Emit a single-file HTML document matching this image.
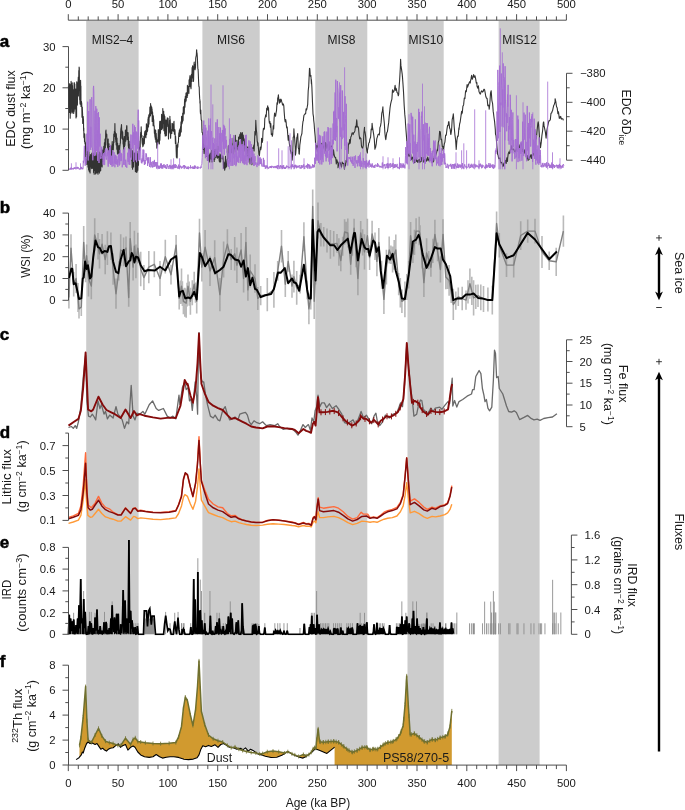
<!DOCTYPE html>
<html><head><meta charset="utf-8"><title>Figure</title>
<style>
html,body{margin:0;padding:0;background:#fff;}
svg{display:block;font-family:"Liberation Sans",sans-serif;fill:#1a1a1a;will-change:transform;}
</style></head><body>
<svg width="685" height="810" viewBox="0 0 685 810">
<rect width="685" height="810" fill="#fff"/>
<rect x="86.2" y="21" width="52.4" height="744" fill="#cccccc"/>
<rect x="202.4" y="21" width="57.3" height="744" fill="#cccccc"/>
<rect x="315.3" y="21" width="52" height="744" fill="#cccccc"/>
<rect x="407.5" y="21" width="36.2" height="744" fill="#cccccc"/>
<rect x="498.6" y="21" width="41" height="744" fill="#cccccc"/>
<path d="M68.5 86 L68.6 107.8 L68.8 107.7 L68.9 104.3 L69 91.5 L69.2 83.6 L69.3 104 L69.4 112.4 L69.5 91.4 L69.7 89.2 L69.8 89.6 L69.9 84.7 L70.1 106.8 L70.2 118.2 L70.3 111.7 L70.5 94.9 L70.6 107.8 L70.7 84 L70.9 113.1 L71 93.6 L71.1 81.4 L71.3 105.2 L71.4 86.6 L71.5 91.8 L71.7 83.6 L71.8 98.3 L71.9 102.5 L72.1 112.1 L72.2 82.9 L72.3 112.9 L72.5 85.6 L72.6 90 L72.8 105.4 L72.9 94.4 L73 94.1 L73.2 103.1 L73.3 89.8 L73.4 111.7 L73.6 89.5 L73.7 113.5 L73.8 112.3 L74 102 L74.1 82.8 L74.2 111.2 L74.4 82.8 L74.5 100.9 L74.7 97.8 L74.8 84.1 L74.9 105.6 L75.1 109 L75.2 103.5 L75.3 96.3 L75.5 100.4 L75.6 103.1 L75.8 89.1 L75.9 113.3 L76 118 L76.2 110.5 L76.3 116.3 L76.5 92.1 L76.6 116.8 L76.7 81.9 L76.9 97.1 L77 83.9 L77.2 95.8 L77.3 104.3 L77.4 105.1 L77.6 95.1 L77.7 89.1 L77.9 81.7 L78 88.2 L78.1 82 L78.3 77 L78.4 95.9 L78.6 85.9 L78.7 81.3 L78.8 70.5 L79 88.1 L79.1 67.1 L79.3 68.1 L79.4 79.8 L79.6 87.3 L79.7 99.8 L79.8 93.4 L80 103.2 L80.1 104.2 L80.3 98.7 L80.4 99.7 L80.6 80.3 L80.7 87.7 L80.9 86.1 L81 106.4 L81.1 104.6 L81.3 104.7 L81.4 101.3 L81.6 104.1 L81.7 102.8 L81.9 110.9 L82 117.3 L82.2 109.2 L82.3 107 L82.4 110.3 L82.6 114.3 L82.7 123.3 L82.9 123.5 L83 120.1 L83.2 116.6 L83.3 118.1 L83.5 120.2 L83.6 130.7 L83.8 128.1 L83.9 137.1 L84.1 137.8 L84.2 137.9 L84.4 135.2 L84.5 141.7 L84.7 133.8 L84.8 135.3 L85 143.4 L85.1 144.3 L85.2 141.9 L85.4 144.3 L85.5 142.8 L85.7 157 L85.8 156 L86 161 L86.1 162.5 L86.3 154.5 L86.4 160.1 L86.6 154 L86.7 163.1 L86.9 164.5 L87 148.9 L87.2 146.5 L87.3 151.5 L87.5 160.4 L87.6 156 L87.8 147.8 L88 167.1 L88.1 166.4 L88.3 159.4 L88.4 150.1 L88.6 169.9 L88.7 162.1 L88.9 151.8 L89 158 L89.2 165.3 L89.3 171.6 L89.5 162.8 L89.6 166.7 L89.8 156.9 L89.9 157.8 L90.1 173 L90.2 160.9 L90.4 154.5 L90.5 165.7 L90.7 155 L90.8 156.7 L91 162.5 L91.1 165.5 L91.3 166.6 L91.4 168.2 L91.6 162.1 L91.7 153.5 L91.9 168.6 L92 153.1 L92.2 162.7 L92.3 161.1 L92.5 167.3 L92.6 168.3 L92.8 157.3 L93 166.7 L93.1 167.7 L93.3 162.6 L93.4 155 L93.6 172.6 L93.7 165.5 L93.9 153.1 L94 157.2 L94.2 174.3 L94.3 156.9 L94.5 160.6 L94.6 169.7 L94.8 170.5 L94.9 166.1 L95.1 168.6 L95.2 152.4 L95.4 153.6 L95.6 173.9 L95.7 169.9 L95.9 152.4 L96 152.6 L96.2 157.1 L96.3 173 L96.5 156.6 L96.6 167.1 L96.8 173 L96.9 166.3 L97.1 172.8 L97.2 157.7 L97.4 155.2 L97.6 152.2 L97.7 169.2 L97.9 154.2 L98 174.2 L98.2 168.2 L98.3 156.1 L98.5 170.4 L98.6 155.6 L98.8 163.7 L98.9 154.4 L99.1 170.1 L99.3 172.4 L99.4 173.1 L99.6 152.1 L99.7 171.6 L99.9 164.9 L100 171 L100.2 163.7 L100.3 166.4 L100.5 165.8 L100.7 170.6 L100.8 154 L101 153 L101.1 163.7 L101.3 157.4 L101.4 159.3 L101.6 149.8 L101.7 166.2 L101.9 149.1 L102.1 167 L102.2 165.6 L102.4 157.7 L102.5 151.1 L102.7 160 L102.8 152.4 L103 155.5 L103.1 150.2 L103.3 161.4 L103.5 154.5 L103.6 150.9 L103.8 146.3 L103.9 154.3 L104.1 155.1 L104.2 154.1 L104.4 142.8 L104.6 145.6 L104.7 143.8 L104.9 149.1 L105 139.1 L105.2 144.1 L105.3 147.9 L105.5 143.5 L105.7 131.5 L105.8 131 L106 130.1 L106.1 136.8 L106.3 134.1 L106.4 133.9 L106.6 134.1 L106.8 134.5 L106.9 138.4 L107.1 140 L107.2 144.9 L107.4 143.4 L107.5 145.4 L107.7 148.1 L107.9 148.2 L108 147.6 L108.2 139.1 L108.3 148.8 L108.5 151.6 L108.7 146.3 L108.8 153 L109 143.7 L109.1 154.8 L109.3 148.3 L109.4 152.5 L109.6 146.6 L109.8 147.8 L109.9 148.9 L110.1 149 L110.2 146.3 L110.4 151.7 L110.6 159 L110.7 154.1 L110.9 157.6 L111 154.8 L111.2 155.4 L111.4 157.2 L111.5 153.5 L111.7 146.4 L111.8 145.6 L112 147.5 L112.2 141.6 L112.3 144.2 L112.5 152.9 L112.6 153 L112.8 144.3 L113 150.1 L113.1 149.8 L113.3 149.8 L113.4 146.9 L113.6 141.6 L113.8 134 L113.9 142.5 L114.1 133.7 L114.2 136.5 L114.4 131.3 L114.6 132 L114.7 136.4 L114.9 123.5 L115 129.8 L115.2 132.7 L115.4 132.4 L115.5 139.3 L115.7 133.2 L115.8 141.5 L116 139.7 L116.2 144.9 L116.3 133.9 L116.5 136.9 L116.6 139.2 L116.8 149.2 L117 138 L117.1 142.6 L117.3 149.6 L117.5 154 L117.6 143.1 L117.8 147.4 L117.9 151.4 L118.1 152 L118.3 153.4 L118.4 154 L118.6 147.5 L118.7 148.2 L118.9 145.5 L119.1 155 L119.2 146.7 L119.4 145.9 L119.6 154.3 L119.7 148.4 L119.9 146.1 L120 145.6 L120.2 143.3 L120.4 143.2 L120.5 136.2 L120.7 131.4 L120.9 129.9 L121 127.7 L121.2 131.1 L121.3 126.5 L121.5 124.6 L121.7 130.4 L121.8 138.3 L122 135.5 L122.2 130.9 L122.3 139.1 L122.5 132 L122.7 132.1 L122.8 136.1 L123 138.8 L123.1 143.9 L123.3 141.7 L123.5 146.9 L123.6 139.2 L123.8 151.9 L124 142.7 L124.1 148.7 L124.3 136.6 L124.5 147 L124.6 137.7 L124.8 145.6 L125 144 L125.1 141.3 L125.3 134.9 L125.4 130.3 L125.6 132 L125.8 141.1 L125.9 129.8 L126.1 135.9 L126.3 134.1 L126.4 134.2 L126.6 126.6 L126.8 125.5 L126.9 126 L127.1 139.6 L127.3 132.4 L127.4 137.3 L127.6 137.3 L127.8 133.6 L127.9 132.5 L128.1 133 L128.3 145.9 L128.4 136.9 L128.6 149.7 L128.7 142.5 L128.9 148.7 L129.1 141.3 L129.2 151.1 L129.4 144.2 L129.6 146.5 L129.7 149.4 L129.9 144.3 L130.1 146.9 L130.2 155.2 L130.4 148.7 L130.6 150.6 L130.7 157.3 L130.9 148.9 L131.1 148.7 L131.2 149.5 L131.4 153.5 L131.6 153.8 L131.7 160.7 L131.9 157.8 L132.1 167.4 L132.2 150.2 L132.4 164.5 L132.6 169.2 L132.7 156.4 L132.9 151.9 L133.1 160.9 L133.2 153.8 L133.4 161.3 L133.6 166.9 L133.7 153.3 L133.9 153.8 L134.1 161.8 L134.3 155 L134.4 156.3 L134.6 160.9 L134.8 153.8 L134.9 152.7 L135.1 159.2 L135.3 161.5 L135.4 171.8 L135.6 163.4 L135.8 152.8 L135.9 156.1 L136.1 167.6 L136.3 163.6 L136.4 170.4 L136.6 172.4 L136.8 170.1 L136.9 153.6 L137.1 172 L137.3 162.8 L137.5 156.5 L137.6 155 L137.8 170.2 L138 155.1 L138.1 151.4 L138.3 154.3 L138.5 165.3 L138.6 155.7 L138.8 158.6 L139 147.7 L139.1 151.9 L139.3 149.1 L139.5 147 L139.6 149.7 L139.7 150.2 L139.8 145.3 L140 141 L140.2 148 L140.3 141 L140.5 136 L140.7 132.4 L140.8 137.2 L141 133.9 L141.2 126.8 L141.3 130.2 L141.4 131.9 L141.5 136.8 L141.7 136.6 L141.9 135.2 L142 140.1 L142.2 143.2 L142.3 143.5 L142.4 144.5 L142.6 138.5 L142.7 145.5 L142.9 146.8 L143.1 144.1 L143.2 145.2 L143.4 139.2 L143.6 145 L143.8 136.3 L143.9 136.5 L144.1 140.5 L144.3 143.8 L144.5 139.9 L144.5 133.7 L144.6 134.5 L144.8 131.5 L145 135.5 L145.2 131.1 L145.3 130.9 L145.5 136.9 L145.7 134.1 L145.9 137.7 L146 130.2 L146.2 132.9 L146.4 123.7 L146.6 134.8 L146.7 124.9 L146.9 127.2 L147.1 126.8 L147.3 131.7 L147.4 124.9 L147.6 130.7 L147.8 125 L148 118.9 L148.1 126.3 L148.3 117 L148.5 126.9 L148.7 118.8 L148.8 114.9 L149 124.1 L149.2 114.5 L149.4 114.9 L149.6 113.2 L149.7 116.9 L149.9 107.1 L150.1 111.1 L150.3 107.4 L150.5 115.8 L150.6 103.5 L150.8 111.1 L151 105.5 L151.2 108.1 L151.3 110.7 L151.5 113.8 L151.7 107.1 L151.9 109.6 L152.1 109 L152.2 121.4 L152.4 111.6 L152.6 112.6 L152.8 118.8 L153 120.6 L153.1 125.7 L153.3 115.9 L153.5 119.4 L153.7 119.6 L153.9 126.1 L154.1 125.5 L154.2 126 L154.4 133.2 L154.6 131.4 L154.8 135 L155 137.3 L155.1 129.7 L155.3 139.2 L155.5 133.7 L155.7 130.4 L155.9 142.1 L156.1 133.3 L156.2 133.3 L156.4 137.8 L156.6 138.9 L156.8 148.1 L157 146.2 L157.2 140.1 L157.3 140.8 L157.5 145 L157.7 144 L157.9 141 L158.1 137.9 L158.3 129.5 L158.5 131 L158.6 139.1 L158.8 136.9 L159 141.4 L159.2 143.1 L159.4 143.9 L159.6 124.8 L159.8 121.3 L159.9 140.3 L160.1 131.8 L160.3 121.7 L160.5 133.3 L160.7 122.1 L160.9 121 L161.1 123.4 L161.3 126.5 L161.4 129.5 L161.6 114.3 L161.8 129.6 L162 126.1 L162.2 121.7 L162.4 125.8 L162.6 128.2 L162.8 108.5 L162.9 119 L163.1 123.2 L163.3 123.2 L163.5 121.7 L163.7 111.2 L163.9 130.7 L164.1 127.3 L164.3 114.8 L164.5 120.3 L164.7 133.7 L164.8 116.4 L165 122.1 L165.2 136.1 L165.4 135.4 L165.6 120.1 L165.8 132.9 L166 124.7 L166.2 132.7 L166.4 135.6 L166.6 120.1 L166.8 122.4 L167 122.1 L167.1 123.3 L167.3 117.7 L167.5 120 L167.7 126.4 L167.9 126.7 L168.1 118.4 L168.3 130.4 L168.5 139 L168.7 130.1 L168.9 124.8 L169.1 133.1 L169.3 126.6 L169.5 120.2 L169.7 127.5 L169.9 116.3 L170.1 132 L170.2 119.6 L170.4 124.5 L170.6 138.2 L170.8 133.2 L171 134 L171.2 129.9 L171.4 129.5 L171.6 130.3 L171.8 133.4 L172 123.4 L172.2 130.2 L172.4 124.5 L172.6 123.8 L172.8 130.7 L173 127.9 L173.2 131 L173.4 131.2 L173.6 127.6 L173.8 122.6 L174 121.3 L174.2 129.8 L174.4 134.2 L174.6 130.3 L174.8 129.5 L175 130.6 L175.2 134.7 L175.4 143.5 L175.6 136.2 L175.8 141.2 L176 143.5 L176.2 151.5 L176.4 157.2 L176.6 145.9 L176.8 148.2 L177 158.1 L177.2 157.3 L177.4 144.6 L177.6 145.8 L177.8 147.1 L178 142.9 L178.2 142.9 L178.4 142.4 L178.6 137.9 L178.8 133.6 L179 132.6 L179.2 132.4 L179.4 130 L179.6 136.5 L179.8 136.4 L180 128.8 L180.2 135.6 L180.4 133.5 L180.6 126.5 L180.8 127.6 L181 121.8 L181.2 132 L181.4 125.2 L181.6 116.2 L181.8 116.6 L182 123.8 L182.3 117.8 L182.5 121.9 L182.7 113 L182.9 120.9 L183.1 119.8 L183.3 107.3 L183.5 114 L183.7 106.5 L183.9 113.6 L184.1 114 L184.3 112.6 L184.5 102.5 L184.7 99.1 L184.9 107.1 L185.1 104.3 L185.3 96.4 L185.6 96.4 L185.8 101.7 L186 93.1 L186.2 100.6 L186.4 93.4 L186.6 92.7 L186.8 94.5 L187 95.3 L187.2 97.4 L187.4 85.4 L187.6 95.5 L187.9 86.5 L188.1 86.7 L188.3 91.4 L188.5 91.4 L188.7 89.2 L188.9 93.4 L189.1 79.9 L189.3 80.9 L189.5 86.6 L189.7 78.3 L190 75.5 L190.2 76.3 L190.4 86.6 L190.6 87.1 L190.8 84.4 L191 88.6 L191.2 84.7 L191.4 74.5 L191.7 74 L191.9 81.5 L192.1 67.6 L192.3 78.1 L192.5 67.1 L192.7 65.7 L192.9 74.4 L193.2 66.6 L193.4 81.5 L193.6 79.6 L193.8 70.5 L194 64.4 L194.2 62.1 L194.4 69 L194.7 68.5 L194.9 64.9 L195.1 69.8 L195.3 66 L195.5 68.1 L195.6 64.5 L195.7 58.5 L196 56.2 L196.2 56.2 L196.4 54.2 L196.6 49.7 L196.7 50.4 L196.8 53.4 L197 52.8 L197.3 56.5 L197.5 60.7 L197.7 65.6 L197.9 69 L198 69.5 L198.1 69.2 L198.3 73.7 L198.6 81.5 L198.8 85.5 L199 86.9 L199.2 86.8 L199.4 93.5 L199.7 98.9 L199.9 100 L199.9 102.9 L200.1 101.1 L200.3 111.4 L200.5 113.6 L200.8 110.1 L201 115.7 L201.2 119.7 L201.4 120 L201.7 121 L201.9 129.4 L202.1 132.5 L202.4 132.7 L202.6 132.9 L202.9 138.3 L203.1 138.8 L203.3 149.4 L203.6 143.9 L203.7 149.1 L203.8 147.9 L204.1 153.4 L204.3 146.3 L204.6 145.8 L204.8 145.3 L205.1 146.6 L205.3 152 L205.6 156.4 L205.8 147.4 L206.1 147.7 L206.4 156.2 L206.6 151.7 L206.9 150.7 L207.2 147.9 L207.4 149.9 L207.7 160.3 L208 148.6 L208.2 150.8 L208.5 157.8 L208.8 160.2 L209.1 160.6 L209.4 154.9 L209.7 161.9 L209.9 157.2 L210.2 153.1 L210.5 155.6 L210.8 159 L211.1 159.1 L211.4 150.5 L211.7 151.3 L212 161.9 L212.3 149.8 L212.6 159.6 L212.9 152.8 L213.2 151.4 L213.5 151.4 L213.9 154.2 L214.2 161.4 L214.5 149.5 L214.8 159.2 L215.1 151.6 L215.5 149.4 L215.8 157.3 L216.1 151.5 L216.4 149.2 L216.8 152.3 L217.1 157.8 L217.5 158.2 L217.8 154 L218.1 146.4 L218.5 157.5 L218.8 155.9 L219.2 160.6 L219.5 162 L219.9 153.8 L220.2 161.7 L220.6 161.9 L221 154.8 L221.3 156.8 L221.7 157.6 L222.1 157.9 L222.4 158.9 L222.8 155.8 L223.2 158.1 L223.6 168.3 L224 162 L224.3 165.9 L224.7 170.1 L225.1 166.8 L225.5 156.2 L225.9 167.8 L226.3 164.2 L226.7 166.5 L227.1 159.8 L227.5 158.9 L227.9 158.6 L228.3 145.9 L228.7 152.5 L229.1 145.6 L229.5 153.9 L229.9 139.6 L230.4 147.5 L230.8 143.2 L231.2 152.7 L231.6 143 L232 152.8 L232.4 152.7 L232.8 153.1 L233.2 138.1 L233.6 153.9 L234 149.8 L234.4 148.2 L234.9 147.5 L235.3 135.2 L235.7 151.5 L236.1 144.8 L236.5 142.8 L236.9 140.2 L237.3 148.9 L237.8 148.8 L238.2 150.4 L238.6 137.1 L239 139.5 L239.4 137.5 L239.9 134.3 L240.3 138.7 L240.7 132.5 L241.1 147.8 L241.5 136.2 L242 133 L242.4 132.7 L242.8 146.1 L243.2 135 L243.7 140.2 L244.1 138.8 L244.5 146.6 L244.9 150.9 L245.4 139.3 L245.8 147 L246.2 153.6 L246.7 146.4 L247.1 156.2 L247.5 154.2 L247.9 147.1 L248.4 159.6 L248.8 154.9 L249.2 146.9 L249.7 157.8 L250.1 163.9 L250.5 159 L251 159.6 L251.4 157.6 L251.9 164.7 L252.3 158 L252.7 147.8 L253.2 148.5 L253.6 146.5 L254 144.9 L254.1 150.9 L254.5 142.9 L254.9 131.5 L255.4 135.1 L255.8 120.4 L255.9 123.1 L256.3 129.5 L256.7 132.9 L257.2 141.2 L257.6 143.1 L257.8 145.7 L258 142.7 L258.5 149.3 L258.9 154.3 L259.4 155.8 L259.7 152.5 L259.8 151.4 L260.3 147 L260.7 149.8 L261.2 147.5 L261.6 138.2 L262.1 142.5 L262.6 140.8 L263 131.7 L263.5 128.2 L263.5 129.7 L263.9 129.2 L264.4 129.1 L264.8 118.6 L265.3 117.1 L265.7 114.9 L266.2 116.7 L266.7 108.3 L267.1 109.6 L267.6 106.5 L267.7 105.8 L268.1 110.3 L268.5 107.7 L269 119.6 L269.4 123.1 L269.9 121.5 L270.4 127.1 L270.8 123.6 L271.3 134.5 L271.8 133.7 L272 134.3 L272.3 136.3 L272.7 134.4 L273.2 125.9 L273.7 128.9 L274.1 118.2 L274.6 113.1 L275.1 115.1 L275.6 116.3 L276 113.2 L276.5 110.7 L277 102.9 L277.5 104.2 L277.7 97.9 L277.9 98.8 L278.4 94.9 L278.9 100.7 L279.4 103.1 L279.9 99.6 L280.4 102.1 L280.8 99.1 L281.3 99.8 L281.8 101.9 L282.3 103.5 L282.5 104.9 L282.8 105 L283.3 103.9 L283.8 105.8 L284.2 112.1 L284.7 118.8 L285.2 122 L285.7 119.5 L286.2 122.5 L286.3 124.6 L286.7 128 L287.2 127.1 L287.7 134.3 L288.2 140.1 L288.7 135.6 L289.2 142.3 L289.7 146.4 L290.1 145.2 L290.2 149.4 L290.7 151.5 L291.2 154 L291.7 152.1 L292.2 160.3 L292.4 157.1 L292.7 155.5 L293.2 137.1 L293.7 136.7 L293.9 128.7 L294.2 134.2 L294.7 138.9 L295.2 147 L295.4 155.1 L295.7 153.6 L296.2 147.8 L296.8 137.7 L297.3 136.2 L297.7 133.6 L297.8 136.2 L298.3 147.9 L298.8 149.3 L299 153.7 L299.3 154.1 L299.8 145.1 L300.4 140.8 L300.9 136.6 L301.4 135.2 L301.9 133.5 L302.4 126.5 L303 121.2 L303.4 120.6 L303.5 118.4 L304 115.2 L304.5 114.5 L305 113.9 L305.6 113.9 L306.1 108.9 L306.6 110 L307.1 107.7 L307.2 107 L307.7 104.3 L308.2 90.7 L308.7 86.4 L309.3 72.8 L309.5 68.3 L309.8 68.6 L310.3 76.2 L310.9 75.5 L311.4 83.7 L311.4 79.6 L311.9 87.4 L312.5 102.4 L313 113.8 L313.5 116.9 L313.7 120.2 L314.1 123.5 L314.6 130.8 L315.2 136.8 L315.7 146.8 L316.1 149 L316.3 148.7 L316.8 145.3 L317.3 151.3 L317.9 147.3 L318.4 140.5 L319 147.9 L319.5 145.6 L319.9 142.9 L320.1 141.2 L320.6 144.5 L321.2 147.9 L321.7 143.3 L322.3 144.2 L322.8 143.4 L323.4 146.5 L323.9 148.1 L324.5 149.4 L324.7 145.9 L325.1 151.2 L325.6 142.5 L326.2 144 L326.7 148.2 L327.3 146.9 L327.8 144.2 L328.4 144.3 L328.5 142.5 L329 142.1 L329.5 149.5 L330.1 146.9 L330.6 146.7 L331.2 145.9 L331.8 146.6 L332.3 155.8 L332.9 156.1 L333.2 153.4 L333.5 149.7 L334 153.8 L334.6 156.5 L335.2 157.8 L335.7 157.6 L336.3 164 L336.9 159.7 L337.5 162.7 L338 162.2 L338 167.7 L338.6 164.9 L339.2 163.4 L339.7 162.1 L340.3 162.8 L340.9 165.2 L341.5 167.1 L342.1 162 L342.6 163.2 L343.2 163.5 L343.8 163.4 L344.4 169.1 L344.9 165.5 L345.5 163 L345.5 166 L346.1 160.4 L346.7 161.7 L347.3 152.3 L347.9 153.6 L348.4 144.7 L349 142.9 L349.3 143.9 L349.6 139.5 L350.2 143.2 L350.8 137 L351.4 135.9 L352 133.1 L352.6 132.9 L353.1 133 L353.1 134.6 L353.7 132.8 L354.3 132.4 L354.9 130.9 L355.5 126.4 L356.1 127.3 L356.7 119.8 L356.9 121.3 L357.3 126.9 L357.9 126.6 L358.5 128 L359.1 135 L359.7 138.9 L359.8 137.1 L360.3 138 L360.9 138.4 L361.5 146.3 L362.1 147.8 L362.6 148 L362.7 148.2 L363.3 145.1 L363.9 132.8 L364.5 127.2 L364.5 130.5 L365.1 132.5 L365.7 136.8 L366.3 146.7 L366.9 151.2 L367.4 153 L367.5 150.1 L368.2 146.7 L368.8 143 L369.4 142.3 L369.8 139.5 L370 138.9 L370.6 137.2 L371.2 129.1 L371.8 129.6 L372.1 123.4 L372.4 126.5 L373.1 130.9 L373.7 134.7 L374.3 139.3 L374.9 149.2 L375 145.7 L375.5 148 L376.2 144.2 L376.8 138.6 L377.4 136.8 L378 134.7 L378.6 134.2 L379.3 135 L379.7 131.8 L379.9 127.6 L380.5 126.1 L381.1 122.4 L381.8 113.1 L382.4 111.1 L382.9 106.7 L383 110.4 L383.6 116.2 L384.3 122.7 L384.9 133 L385.5 138.4 L385.8 139.7 L386.2 136.7 L386.8 132.5 L387.4 131.8 L388.1 126.6 L388.7 122.4 L389.2 116.3 L389.3 115.4 L390 108.2 L390.6 104.1 L391.3 101.2 L391.9 99.1 L392.5 89.9 L393 91.3 L393.2 92.3 L393.8 91.7 L394.5 89.4 L395.1 85.4 L395.7 90.5 L395.8 88 L396.4 89.1 L397 92.4 L397.7 93.2 L398.3 95.8 L398.7 94.5 L399 88.9 L399.6 80.5 L400.3 68.1 L400.6 59.3 L400.9 65.4 L401.6 69.7 L402.2 74.1 L402.5 77.4 L402.9 82.8 L403.5 91.6 L404.2 105.6 L404.8 114.4 L405.3 119.5 L405.5 123.5 L406.1 131.6 L406.8 140.6 L407.4 146.3 L408.1 151.5 L408.2 154.3 L408.7 156.2 L409.4 153.6 L410 156.6 L410.7 154.3 L411.3 159.6 L412 157.9 L412.7 157.2 L413.3 162.1 L413.9 159.8 L414 157.3 L414.6 162.7 L415.3 161.6 L415.9 157.6 L416.6 161.5 L417.2 160.3 L417.9 162.5 L418.5 160.4 L419.2 159.4 L419.9 162.6 L420.5 157.1 L421.2 161.5 L421.8 157.2 L422.5 158.3 L423.1 157.3 L423.8 162.1 L424.5 159.3 L425.1 161.1 L425.8 158.1 L426.4 161.1 L427.1 160.6 L427.7 157 L428.4 159.6 L429.1 161 L429.7 157.7 L430 158.9 L430.4 160.5 L431 158.1 L431.7 158.6 L432.4 162.1 L433 162.2 L433.1 158.5 L433.7 161.3 L434.3 156.2 L435 155.6 L435.7 155.6 L436.3 153.8 L437 150.4 L437.5 149.6 L437.6 150.7 L438.3 142.2 L439 140.1 L439.6 131.4 L439.7 131.8 L440.3 131.7 L441 139.5 L441.6 139.4 L442.3 146.6 L442.9 146.3 L443 150.3 L443.6 149.8 L444.3 143.9 L444.9 142.1 L445.6 135.1 L445.8 135.6 L446.3 135 L446.9 129.7 L447.6 125.3 L448.3 125.3 L448.5 122.1 L448.9 121.6 L449.6 128.1 L450.2 129.3 L450.7 134.1 L450.9 134.5 L451.6 129.8 L452.2 119.3 L452.9 117 L453.3 113.9 L453.6 117.6 L454.2 126.9 L454.9 134.7 L455.6 139.9 L456.1 147.6 L456.2 149.4 L456.9 140.5 L457.6 136.1 L458.2 136.3 L458.9 127.8 L459 129.8 L459.6 124 L460.2 121.8 L460.9 116.6 L461.6 111.3 L461.6 114 L462.3 112.7 L462.9 106.3 L463.6 104.9 L464.3 98 L464.9 98.7 L465.6 90.8 L466.3 91.7 L466.9 86.3 L467.1 84.5 L467.6 87.2 L468.3 85 L469 83.2 L469.6 81.7 L470.3 82.9 L470.4 81.3 L471 78.9 L471.6 75.4 L472.3 79.3 L473 77.2 L473.6 74.5 L473.7 75.1 L474.3 77.3 L475 75.8 L475.7 79.1 L476.3 83.2 L476.9 82.6 L477 86 L477.7 88.2 L478.4 85.8 L479 91.6 L479.7 93.2 L480.2 94.1 L480.4 94 L481.1 91.7 L481.7 90.8 L482.4 92.1 L483.1 91.5 L483.8 89.4 L484.4 89.3 L484.6 89.9 L485.1 92.4 L485.8 96.5 L486.5 98.2 L487.1 98.2 L487.8 105.6 L488.5 105.1 L489 107.2 L489.2 109.3 L489.8 104 L490.5 93.2 L491.2 90.7 L491.2 91.3 L491.9 100.5 L492.6 103.6 L493.2 111.4 L493.4 112.6 L493.9 116.7 L494.6 121.6 L495.3 129.5 L495.5 134.3 L496 135.4 L496.6 142.5 L497.3 150.9 L497.7 154.8 L498 154.8 L498.7 158.7 L499.4 158.4 L500 157.8 L500.7 162.9 L501.4 162.3 L502.1 163.2 L502.8 166.6 L503.2 164.4 L503.4 166 L504.1 162.9 L504.8 163.4 L505.5 160.3 L506.2 163.5 L506.8 157.8 L507.5 161.4 L507.6 158.7 L508.2 153.9 L508.9 151.9 L509.6 153.6 L510.3 149.7 L510.9 149.9 L511.6 145.7 L512 147.9 L512.3 149.6 L513 148.9 L513.7 149.3 L514.4 151.2 L515.1 152 L515.7 150.3 L516.4 148.7 L516.4 150.8 L517.1 145.5 L517.8 145.2 L518.5 146.9 L519.2 149.7 L519.9 144.8 L520.5 145.7 L520.7 144.8 L521.2 143 L521.9 146.9 L522.6 151.4 L523.3 150.8 L524 153.7 L524.7 149.9 L525.3 152.4 L526 153.7 L526.7 159.2 L527.3 157.4 L527.4 155.6 L528.1 160.5 L528.8 155.8 L529.5 159.2 L530.2 156.4 L530.9 154.7 L531.6 158.4 L532.2 154.3 L532.9 155.8 L533.6 151.3 L533.9 154 L534.3 153 L535 149.4 L535.7 139.2 L536.4 138.7 L536.5 136.8 L537.1 130.2 L537.8 123.8 L538.2 121.8 L538.5 123.5 L539.2 132.7 L539.8 141.8 L540.4 145.5 L540.5 147.6 L541.2 142.7 L541.9 135.5 L542.6 130.8 L543.3 122.8 L543.7 121.9 L544 125.4 L544.7 128.8 L545.4 132.1 L545.9 136.8 L546.1 138.1 L546.8 130.8 L547.5 127 L548.2 123.9 L548.9 120.7 L549.2 121 L549.6 120.8 L550.3 119.7 L551 113.2 L551.6 113 L552.3 111 L552.5 111 L553 108.7 L553.7 105.5 L554.4 104.2 L555.1 101.6 L555.1 98.7 L555.8 101.6 L556.5 106.5 L557.2 107.9 L557.9 113.8 L558 111.3 L558.6 112.6 L559.3 118.4 L560 116.8 L560.1 118 L560.7 116.4 L561.4 119.1 L562.1 118.8 L562.8 118.7 L563.4 120.4" fill="none" stroke="#333333" stroke-width="1.1" stroke-linejoin="round"/>
<path d="M68.5 169.3 L68.8 168.7 L69 168.7 L69.3 169.3 L69.6 169.4 L69.8 169.7 L70.1 168.4 L70.4 169.5 L70.7 167.8 L70.9 168.5 L71.2 167.6 L71.5 167.8 L71.7 169.5 L72 168.6 L72.3 169 L72.5 168.3 L72.8 168.8 L73.1 169.5 L73.4 168.1 L73.6 168.8 L73.9 168.8 L74.2 167.4 L74.4 168.9 L74.7 168 L75 168 L75.2 167.3 L75.5 168.4 L75.8 169.1 L76.1 169.1 L76.3 167.5 L76.6 167.4 L76.9 167.7 L77.1 168.2 L77.4 166.9 L77.7 168.2 L77.9 169 L78.2 167.4 L78.5 167.5 L78.8 168.4 L79 169.2 L79.3 169.4 L79.6 168.9 L79.8 169.3 L80.1 168.2 L80.4 169.2 L80.6 167.7 L80.9 166.8 L81.2 168.9 L81.5 168.2 L81.7 167 L82 169.3 L82.3 168.9 L82.5 168.2 L82.8 169.2 L83.1 168 L83.3 160.8 L83.6 163.1 L83.9 159.9 L84.2 149.1 L84.4 145.7 L84.7 158.9 L85 162.3 L85.2 165.7 L85.5 161.5 L85.8 157.1 L86 163.8 L86.3 159.4 L86.6 154.2 L86.9 133.7 L87.1 151.2 L87.4 148.2 L87.7 101.7 L87.9 137 L88.2 160.5 L88.5 147 L88.7 111 L89 151.6 L89.3 135.5 L89.6 135.7 L89.8 125.2 L90.1 99.3 L90.4 149.9 L90.6 149.6 L90.9 126.8 L91.2 147.5 L91.4 99.5 L91.7 97.2 L92 101.1 L92.3 149.9 L92.5 147.9 L92.8 160.3 L93.1 146.1 L93.3 88.4 L93.6 85.9 L93.9 93.2 L94.1 154.3 L94.4 155.9 L94.7 122.1 L95 110.7 L95.2 123.5 L95.5 155.4 L95.8 106.1 L96 122.5 L96.3 151.4 L96.6 145.1 L96.8 108.7 L97.1 140.8 L97.4 130.5 L97.7 160.8 L97.9 113 L98.2 154.1 L98.5 112 L98.7 150.4 L99 163 L99.3 117.3 L99.5 141.2 L99.8 146.6 L100.1 133.7 L100.4 158.7 L100.6 157.2 L100.9 158.4 L101.2 158.5 L101.4 156.5 L101.7 146.7 L102 153.4 L102.2 154.1 L102.5 157 L102.8 159.5 L103.1 164.8 L103.3 164.6 L103.6 153.2 L103.9 162.2 L104.1 156.4 L104.4 165.1 L104.7 164.4 L104.9 152.2 L105.2 156.4 L105.5 148.6 L105.8 156.3 L106 157.8 L106.3 159.7 L106.6 157.5 L106.8 152.7 L107.1 148.5 L107.4 155.8 L107.6 151.9 L107.9 165.4 L108.2 166.7 L108.5 164.9 L108.7 150.4 L109 163.9 L109.3 156.7 L109.5 147.4 L109.8 162.1 L110.1 161 L110.3 144.9 L110.6 165 L110.9 159.2 L111.2 165 L111.4 155.7 L111.7 158 L112 166.7 L112.2 156.1 L112.5 163.7 L112.8 150.1 L113 166.3 L113.3 164.7 L113.6 164.7 L113.9 158.9 L114.1 152.2 L114.4 163.2 L114.7 156.6 L114.9 167.3 L115.2 155 L115.5 163.9 L115.7 154.8 L116 164.1 L116.3 164.2 L116.6 160.6 L116.8 156.2 L117.1 164.8 L117.4 159.5 L117.6 166.7 L117.9 167 L118.2 163.4 L118.4 153.8 L118.7 160.4 L119 163.9 L119.3 165.5 L119.5 153.5 L119.8 164.5 L120.1 149.9 L120.3 151.7 L120.6 157.8 L120.9 161.2 L121.1 152.9 L121.4 160.7 L121.7 153.8 L122 161.6 L122.2 167.3 L122.5 164.7 L122.8 164.9 L123 164.2 L123.3 149.5 L123.6 164.2 L123.8 163.1 L124.1 165 L124.4 161.5 L124.7 147.2 L124.9 161.8 L125.2 163.3 L125.5 166.5 L125.7 159.7 L126 164.3 L126.3 167 L126.5 165.9 L126.8 167.8 L127.1 163.9 L127.4 157.2 L127.6 152.8 L127.9 152.8 L128.2 162 L128.4 148.6 L128.7 153.6 L129 164.5 L129.2 149.3 L129.5 152.7 L129.8 164.9 L130.1 156.7 L130.3 141.5 L130.6 143.6 L130.9 134.5 L131.1 159.6 L131.4 159.7 L131.7 156.1 L131.9 139.3 L132.2 135 L132.5 148.6 L132.8 123.8 L133 143.1 L133.3 138.6 L133.6 132.2 L133.8 161.9 L134.1 133.1 L134.4 125.5 L134.6 144.9 L134.9 143 L135.2 127 L135.5 139.5 L135.7 160.3 L136 131.3 L136.3 144.3 L136.5 162.2 L136.8 132.2 L137.1 135.6 L137.3 143 L137.6 148.7 L137.9 122.3 L138.2 109.7 L138.4 161.1 L138.7 120.4 L139 148.2 L139.2 153.2 L139.5 157.5 L139.8 160.1 L140 150 L140.3 150.2 L140.6 147.6 L140.9 157.9 L141.1 160.9 L141.4 162.9 L141.7 159.8 L141.9 163.4 L142.2 158.3 L142.5 161.7 L142.7 154.8 L143 149.5 L143.3 153 L143.6 161.3 L143.8 149.8 L144.1 161.5 L144.4 164.9 L144.6 161.9 L144.9 159.9 L145.2 164.2 L145.4 161.7 L145.7 159.5 L146 153.2 L146.3 156.9 L146.5 154.2 L146.8 160.4 L147.1 158.5 L147.3 157.5 L147.6 165.9 L147.9 157.8 L148.1 163 L148.4 163.2 L148.7 157.3 L149 161.7 L149.2 162.6 L149.5 166.9 L149.8 164 L150 164.4 L150.3 157.2 L150.6 165.2 L150.8 167.4 L151.1 166.4 L151.4 166.6 L151.7 162 L151.9 161.9 L152.2 164.8 L152.5 165.7 L152.7 167.6 L153 161 L153.3 164.1 L153.6 162.1 L153.8 167 L154.1 165.7 L154.4 159.9 L154.6 163.1 L154.9 166.9 L155.2 162 L155.4 165.9 L155.7 165.1 L156 162.2 L156.3 162.4 L156.5 168.5 L156.8 165.3 L157.1 162.1 L157.3 164.5 L157.6 166.3 L157.9 167.5 L158.1 166.8 L158.4 165.9 L158.7 168.6 L159 165.5 L159.2 169 L159.5 166.4 L159.8 167.7 L160 167 L160.3 167.7 L160.6 163.6 L160.8 164.4 L161.1 168.3 L161.4 163.5 L161.7 168.4 L161.9 166.4 L162.2 167.5 L162.5 165.1 L162.7 168.7 L163 167.6 L163.3 166.3 L163.5 164.7 L163.8 167.3 L164.1 164.3 L164.4 165.5 L164.6 167.5 L164.9 166.9 L165.2 167.4 L165.4 168.1 L165.7 165.2 L166 168.4 L166.2 167.2 L166.5 169 L166.8 168.6 L167.1 164 L167.3 164.8 L167.6 164.8 L167.9 167.3 L168.1 166.4 L168.4 166.3 L168.7 167.7 L168.9 169 L169.2 168.1 L169.5 165.1 L169.8 164.9 L170 167 L170.3 165.4 L170.6 168.5 L170.8 166.8 L171.1 168.3 L171.4 165.7 L171.6 166.8 L171.9 166.5 L172.2 169.2 L172.5 165.3 L172.7 165.1 L173 168.1 L173.3 164.5 L173.5 167.5 L173.8 168.1 L174.1 168 L174.3 164.7 L174.6 165.7 L174.9 168.1 L175.2 164 L175.4 168 L175.7 167.4 L176 165.6 L176.2 165.3 L176.5 165.1 L176.8 167 L177 168 L177.3 166.6 L177.6 167.7 L177.9 168.8 L178.1 168.4 L178.4 167 L178.7 164.6 L178.9 168.7 L179.2 168.4 L179.5 166.4 L179.7 168.2 L180 166.4 L180.3 165.6 L180.6 167.2 L180.8 166.1 L181.1 167.2 L181.4 166.8 L181.6 168.5 L181.9 167.6 L182.2 167.3 L182.4 166.8 L182.7 167.7 L183 165.8 L183.3 165.8 L183.5 166.9 L183.8 165.2 L184.1 168.8 L184.3 168.9 L184.6 165.2 L184.9 165.8 L185.1 166 L185.4 167.6 L185.7 166.2 L186 166.8 L186.2 168.4 L186.5 168.9 L186.8 168 L187 167.4 L187.3 168.8 L187.6 167.3 L187.8 168.5 L188.1 166.3 L188.4 169.2 L188.7 167.7 L188.9 167.7 L189.2 168 L189.5 168.1 L189.7 167.3 L190 167.9 L190.3 168.1 L190.5 165.4 L190.8 168.4 L191.1 167.3 L191.4 167.9 L191.6 167.2 L191.9 167.2 L192.2 168.2 L192.4 168.5 L192.7 166.5 L193 168.3 L193.2 167.9 L193.5 168.8 L193.8 166.8 L194.1 168.5 L194.3 165.9 L194.6 168.9 L194.9 165.4 L195.1 168.4 L195.4 166.5 L195.7 166.2 L195.9 167.2 L196.2 167.3 L196.5 167.4 L196.8 167.2 L197 168.5 L197.3 167.9 L197.6 168.9 L197.8 166.4 L198.1 168.5 L198.4 167.8 L198.6 167.4 L198.9 167.4 L199.2 167.7 L199.5 167.8 L199.7 167.7 L200 168 L200.3 168.4 L200.5 168.3 L200.8 166.7 L201.1 167.8 L201.3 165.3 L201.6 164.8 L201.9 163.4 L202.2 157.3 L202.4 150.3 L202.7 135.4 L203 149.1 L203.2 144.9 L203.5 126.4 L203.8 120.6 L204 129.2 L204.3 147.6 L204.6 138.1 L204.9 127.9 L205.1 124.9 L205.4 158.2 L205.7 136.3 L205.9 127.6 L206.2 133.5 L206.5 138 L206.7 156.3 L207 145.5 L207.3 160.6 L207.6 148.8 L207.8 130.6 L208.1 150.5 L208.4 154.9 L208.6 139.4 L208.9 125.3 L209.2 135.2 L209.4 149.1 L209.7 139.2 L210 132.9 L210.3 118.6 L210.5 145.1 L210.8 149.8 L211.1 138.4 L211.3 131.9 L211.6 131.1 L211.9 137.6 L212.1 156.5 L212.4 160.9 L212.7 139.3 L213 137.6 L213.2 158.3 L213.5 143 L213.8 158.4 L214 157.1 L214.3 151.4 L214.6 143.4 L214.8 138.4 L215.1 148.9 L215.4 156.6 L215.7 153.5 L215.9 122.3 L216.2 150 L216.5 154.5 L216.7 142.6 L217 137.8 L217.3 119.4 L217.5 146.4 L217.8 155.6 L218.1 150.2 L218.4 152.1 L218.6 155.6 L218.9 127 L219.2 151.5 L219.4 141 L219.7 133.3 L220 152.5 L220.2 150.7 L220.5 127.6 L220.8 151.6 L221.1 132.8 L221.3 133.1 L221.6 157.5 L221.9 158.2 L222.1 145.6 L222.4 130 L222.7 137 L222.9 141.7 L223.2 129.9 L223.5 149.1 L223.8 124.8 L224 132 L224.3 154.7 L224.6 126.3 L224.8 134.5 L225.1 128.4 L225.4 148.5 L225.6 138.9 L225.9 136.3 L226.2 147.1 L226.5 139.9 L226.7 152.4 L227 151.6 L227.3 160.8 L227.5 161.7 L227.8 165.4 L228.1 161.2 L228.3 160 L228.6 166.9 L228.9 145.4 L229.2 144.7 L229.4 163.6 L229.7 155.9 L230 138.8 L230.2 162.1 L230.5 134.4 L230.8 165.1 L231 165.9 L231.3 138.2 L231.6 146.9 L231.9 149.9 L232.1 165.8 L232.4 145.5 L232.7 159.4 L232.9 165.8 L233.2 158.7 L233.5 158.6 L233.7 135.1 L234 139.5 L234.3 164.9 L234.6 154.2 L234.8 157.2 L235.1 153.9 L235.4 142.1 L235.6 143.5 L235.9 166.2 L236.2 141.6 L236.4 164.6 L236.7 152.4 L237 162.2 L237.3 156.6 L237.5 158.1 L237.8 161.5 L238.1 146.8 L238.3 162.8 L238.6 162.3 L238.9 145.4 L239.1 150.3 L239.4 157.5 L239.7 141.5 L240 142 L240.2 163.1 L240.5 139 L240.8 155.5 L241 161.4 L241.3 151.7 L241.6 144.4 L241.8 159.4 L242.1 160.9 L242.4 147.3 L242.7 162.9 L242.9 144.1 L243.2 163.5 L243.5 141.5 L243.7 163.2 L244 145.4 L244.3 164.7 L244.5 161.9 L244.8 155.4 L245.1 160.8 L245.4 135.3 L245.6 161.2 L245.9 164.3 L246.2 134.8 L246.4 146.8 L246.7 161.3 L247 165.2 L247.2 160.2 L247.5 155.8 L247.8 148 L248.1 150.4 L248.3 162.5 L248.6 156 L248.9 140.3 L249.1 150.9 L249.4 158.3 L249.7 145.2 L249.9 144.3 L250.2 141.4 L250.5 150.4 L250.8 159 L251 164.2 L251.3 144.1 L251.6 152 L251.8 157.1 L252.1 151.8 L252.4 148.7 L252.6 162.6 L252.9 151.2 L253.2 156.9 L253.5 165.7 L253.7 164.1 L254 153.6 L254.3 165.8 L254.5 160.3 L254.8 161.1 L255.1 156.2 L255.3 161.5 L255.6 164.7 L255.9 162.5 L256.2 164.5 L256.4 165.4 L256.7 165.2 L257 167.1 L257.2 162.7 L257.5 165 L257.8 164.8 L258 155.3 L258.3 164.7 L258.6 164.8 L258.9 165.6 L259.1 157.7 L259.4 163 L259.7 164.4 L259.9 164.2 L260.2 157.4 L260.5 164 L260.7 163.5 L261 158.8 L261.3 158.9 L261.6 165.3 L261.8 165 L262.1 166.7 L262.4 166.4 L262.6 165.6 L262.9 164 L263.2 162.2 L263.4 157.9 L263.7 166.7 L264 159.8 L264.3 166.7 L264.5 165.5 L264.8 167 L265.1 165.7 L265.3 168.7 L265.6 167.3 L265.9 168.3 L266.1 165.3 L266.4 167.5 L266.7 166.5 L267 166 L267.2 165.7 L267.5 167.8 L267.8 166.8 L268 166.8 L268.3 167.6 L268.6 168.7 L268.8 168.1 L269.1 168.1 L269.4 167.3 L269.7 166.5 L269.9 167.7 L270.2 167.3 L270.5 166.1 L270.7 167.8 L271 166.3 L271.3 166.5 L271.5 168.1 L271.8 165.8 L272.1 166.9 L272.4 167.2 L272.6 166.6 L272.9 166.2 L273.2 167 L273.4 167.7 L273.7 166.6 L274 168.1 L274.2 167.4 L274.5 166.4 L274.8 166.2 L275.1 167.6 L275.3 166.3 L275.6 166.1 L275.9 168.1 L276.1 167.6 L276.4 166.2 L276.7 167.8 L276.9 165.6 L277.2 168.6 L277.5 168.9 L277.8 165.3 L278 166.1 L278.3 165.3 L278.6 166.5 L278.8 166.3 L279.1 167.1 L279.4 166.6 L279.6 166.9 L279.9 168.9 L280.2 165.3 L280.5 166.8 L280.7 165.3 L281 167.4 L281.3 167.9 L281.5 167.8 L281.8 165.8 L282.1 168.1 L282.3 169 L282.6 165.8 L282.9 165.5 L283.2 168.4 L283.4 165.9 L283.7 165.2 L284 168.2 L284.2 167.1 L284.5 169 L284.8 167.9 L285 167.2 L285.3 167.4 L285.6 169 L285.9 166.8 L286.1 166.8 L286.4 167.6 L286.7 165.5 L286.9 167 L287.2 166.2 L287.5 166.3 L287.7 166.8 L288 167.2 L288.3 167.9 L288.6 166.6 L288.8 167.2 L289.1 167.2 L289.4 168 L289.6 167.3 L289.9 166.9 L290.2 167.4 L290.4 167.2 L290.7 166.7 L291 166.8 L291.3 164.6 L291.5 167.2 L291.8 167.1 L292.1 165.5 L292.3 167.3 L292.6 164.3 L292.9 167 L293.1 166.4 L293.4 167 L293.7 165.8 L294 166.2 L294.2 168.6 L294.5 167 L294.8 164.9 L295 167.4 L295.3 164.9 L295.6 167.1 L295.8 164.9 L296.1 165.4 L296.4 168.3 L296.7 166.1 L296.9 167.3 L297.2 165.7 L297.5 166.1 L297.7 167.6 L298 167.1 L298.3 165.8 L298.5 167.3 L298.8 166.4 L299.1 165.8 L299.4 165.2 L299.6 166.8 L299.9 168.4 L300.2 167.4 L300.4 167.2 L300.7 167.2 L301 168.8 L301.2 165 L301.5 167.6 L301.8 166.4 L302.1 166.8 L302.3 167.8 L302.6 167 L302.9 165.3 L303.1 167.1 L303.4 165.9 L303.7 164.3 L303.9 164.5 L304.2 168.6 L304.5 168.4 L304.8 168.9 L305 165.8 L305.3 166 L305.6 166 L305.8 166.6 L306.1 166.9 L306.4 167.4 L306.6 165.2 L306.9 166.4 L307.2 167.7 L307.5 163.7 L307.7 168.6 L308 167.9 L308.3 164.1 L308.5 166.3 L308.8 165.1 L309.1 165.1 L309.3 168.7 L309.6 164.7 L309.9 166.5 L310.2 165.8 L310.4 168.2 L310.7 168.3 L311 167.5 L311.2 168.3 L311.5 167.1 L311.8 166.5 L312 167 L312.3 166.6 L312.6 164.3 L312.9 167.9 L313.1 166.9 L313.4 164.9 L313.7 167.2 L313.9 165.4 L314.2 165.3 L314.5 167.2 L314.7 157.7 L315 162.6 L315.3 162.2 L315.5 163.8 L315.8 142.8 L316.1 160.7 L316.4 154.3 L316.6 158 L316.9 159.3 L317.2 147.7 L317.4 153.8 L317.7 160.6 L318 151.9 L318.2 127.7 L318.5 163 L318.8 138.6 L319.1 144.1 L319.3 134.8 L319.6 140 L319.9 164.4 L320.1 137.2 L320.4 160.1 L320.7 135.6 L320.9 150.6 L321.2 157.5 L321.5 144.4 L321.8 164.5 L322 146.1 L322.3 159.5 L322.6 144 L322.8 136.3 L323.1 162.2 L323.4 141 L323.6 144.2 L323.9 137.8 L324.2 131.9 L324.5 153.6 L324.7 131.4 L325 134.8 L325.3 156.1 L325.5 156.5 L325.8 152.7 L326.1 161.4 L326.3 150.7 L326.6 158.2 L326.9 131.6 L327.2 153 L327.4 150.7 L327.7 157.7 L328 127 L328.2 147.4 L328.5 150.7 L328.8 128.1 L329 161.7 L329.3 153.8 L329.6 164.5 L329.9 141.6 L330.1 160.2 L330.4 144.1 L330.7 141.9 L330.9 127.8 L331.2 163.9 L331.5 147.5 L331.7 158.5 L332 154 L332.3 139.8 L332.6 158 L332.8 138.3 L333.1 123.5 L333.4 144.3 L333.6 111.8 L333.9 119.8 L334.2 110.8 L334.4 140.1 L334.7 113.8 L335 92.6 L335.3 93.4 L335.5 140.7 L335.8 79.7 L336.1 137.2 L336.3 118 L336.6 132.2 L336.9 125.9 L337.1 151.4 L337.4 81 L337.7 87.2 L338 90.2 L338.2 107 L338.5 118.7 L338.8 115.7 L339 107.2 L339.3 119.9 L339.6 121.5 L339.8 92.7 L340.1 127.8 L340.4 136.8 L340.7 85.2 L340.9 134.3 L341.2 127.5 L341.5 149.1 L341.7 134.5 L342 139.1 L342.3 138.9 L342.5 90.6 L342.8 110.6 L343.1 130.4 L343.4 120.6 L343.6 111.9 L343.9 137.6 L344.2 134.7 L344.4 124 L344.7 145.7 L345 96.2 L345.2 114.5 L345.5 118.5 L345.8 123.7 L346.1 150 L346.3 103.8 L346.6 152.6 L346.9 142.2 L347.1 161.7 L347.4 149.2 L347.7 165.6 L347.9 162.5 L348.2 158.7 L348.5 157.4 L348.8 157.6 L349 158.5 L349.3 157.1 L349.6 157.7 L349.8 159 L350.1 158 L350.4 159.9 L350.6 161.4 L350.9 156.6 L351.2 161.2 L351.5 162.7 L351.7 160 L352 163 L352.3 164 L352.5 156.8 L352.8 162.3 L353.1 165.9 L353.3 165 L353.6 162.9 L353.9 157.1 L354.2 156.2 L354.4 157.1 L354.7 161.4 L355 167.9 L355.2 161.5 L355.5 155.5 L355.8 159.9 L356 162.1 L356.3 160.5 L356.6 163.5 L356.9 162.2 L357.1 160.1 L357.4 166.4 L357.7 163.3 L357.9 160.2 L358.2 156.2 L358.5 162.7 L358.7 156.3 L359 161 L359.3 166.3 L359.6 154.8 L359.8 163.9 L360.1 156.7 L360.4 156.7 L360.6 157.8 L360.9 166.6 L361.2 162.6 L361.4 166.8 L361.7 160.8 L362 162.6 L362.3 162.8 L362.5 162.8 L362.8 164.1 L363.1 167.3 L363.3 158.2 L363.6 161.9 L363.9 162.8 L364.1 164.8 L364.4 160.9 L364.7 162.4 L365 167.5 L365.2 161.1 L365.5 167.6 L365.8 161.8 L366 160.8 L366.3 168.3 L366.6 160.3 L366.8 161 L367.1 166.9 L367.4 165.3 L367.7 162.8 L367.9 164.2 L368.2 165.6 L368.5 161.5 L368.7 164.2 L369 167.5 L369.3 159.9 L369.5 164.7 L369.8 163.9 L370.1 163.5 L370.4 164.1 L370.6 166.8 L370.9 165.1 L371.2 165.1 L371.4 164.6 L371.7 167.5 L372 167.1 L372.2 163.4 L372.5 166.3 L372.8 165.7 L373.1 167.3 L373.3 165.9 L373.6 166.9 L373.9 167.4 L374.1 168 L374.4 165.2 L374.7 166.3 L374.9 167.7 L375.2 164.8 L375.5 164.8 L375.8 164.9 L376 165.6 L376.3 164.8 L376.6 165.4 L376.8 166.4 L377.1 166.9 L377.4 165.2 L377.6 163.1 L377.9 167 L378.2 165.9 L378.5 164.6 L378.7 165.5 L379 165.8 L379.3 165.7 L379.5 165.9 L379.8 167.4 L380.1 165.9 L380.3 166 L380.6 167 L380.9 166.3 L381.2 167.8 L381.4 167.3 L381.7 166.5 L382 166.9 L382.2 162.6 L382.5 162.6 L382.8 167.8 L383 166.8 L383.3 165.3 L383.6 165.7 L383.9 165.4 L384.1 164.3 L384.4 166 L384.7 166.1 L384.9 164 L385.2 168.6 L385.5 168 L385.7 167 L386 167.9 L386.3 166 L386.6 163.8 L386.8 165.4 L387.1 165.7 L387.4 167.9 L387.6 163.3 L387.9 168 L388.2 163.6 L388.4 168.1 L388.7 166.6 L389 166 L389.3 165.7 L389.5 165.2 L389.8 163.7 L390.1 167.9 L390.3 163.6 L390.6 163 L390.9 163.8 L391.1 165.4 L391.4 167 L391.7 166.3 L392 164.5 L392.2 165.8 L392.5 164.2 L392.8 166.9 L393 163 L393.3 166.4 L393.6 167.9 L393.8 167.2 L394.1 167.8 L394.4 164.5 L394.7 167.8 L394.9 166.1 L395.2 164 L395.5 166 L395.7 167.3 L396 166 L396.3 165.2 L396.5 167 L396.8 165.7 L397.1 163.9 L397.4 168.1 L397.6 167.5 L397.9 168.2 L398.2 166.9 L398.4 167.3 L398.7 167 L399 167.6 L399.2 168.9 L399.5 162.7 L399.8 167.2 L400.1 163.3 L400.3 167.7 L400.6 167.3 L400.9 167.2 L401.1 163.5 L401.4 164.6 L401.7 166 L401.9 168.1 L402.2 167.2 L402.5 164.9 L402.8 167.2 L403 163.4 L403.3 166.9 L403.6 163.9 L403.8 167.8 L404.1 164.9 L404.4 166.8 L404.6 166.2 L404.9 168.4 L405.2 163.4 L405.5 155.5 L405.7 147.1 L406 156.2 L406.3 163.3 L406.5 150.1 L406.8 141.3 L407.1 144.6 L407.3 164.3 L407.6 151 L407.9 137.7 L408.2 123.5 L408.4 130.2 L408.7 153.5 L409 145.3 L409.2 153.1 L409.5 133.8 L409.8 124.3 L410 154.7 L410.3 143.1 L410.6 161 L410.9 153.3 L411.1 112.9 L411.4 119.5 L411.7 115.6 L411.9 130.2 L412.2 134.1 L412.5 153.4 L412.7 116.8 L413 138 L413.3 148.8 L413.6 164 L413.8 134.7 L414.1 159.2 L414.4 149.9 L414.6 148.2 L414.9 141.5 L415.2 162.4 L415.4 119.4 L415.7 156.9 L416 158.6 L416.3 144.2 L416.5 144 L416.8 155.7 L417.1 159.7 L417.3 142.1 L417.6 151.9 L417.9 143.8 L418.1 139 L418.4 130.8 L418.7 108.8 L419 157.4 L419.2 151.6 L419.5 112 L419.8 128.9 L420 129.4 L420.3 156.7 L420.6 160.9 L420.8 158.1 L421.1 130.7 L421.4 116 L421.7 117.6 L421.9 111.6 L422.2 156.1 L422.5 148.8 L422.7 128.7 L423 160.4 L423.3 124.1 L423.5 132.8 L423.8 140.3 L424.1 138.1 L424.4 156.3 L424.6 135.4 L424.9 157.9 L425.2 122.7 L425.4 163.7 L425.7 157.5 L426 157.4 L426.2 152.7 L426.5 153.5 L426.8 123 L427.1 132.7 L427.3 123.3 L427.6 155.5 L427.9 142.8 L428.1 133.8 L428.4 155.8 L428.7 138.4 L428.9 150.5 L429.2 129.8 L429.5 126.8 L429.8 162.3 L430 154.5 L430.3 148.1 L430.6 161 L430.8 151.1 L431.1 156.2 L431.4 163.2 L431.6 161.1 L431.9 153 L432.2 166.3 L432.5 150.7 L432.7 160.7 L433 160.7 L433.3 151.9 L433.5 140.6 L433.8 152.1 L434.1 141.7 L434.3 150.8 L434.6 160.2 L434.9 144.5 L435.2 140.5 L435.4 159.2 L435.7 148.7 L436 152.9 L436.2 155.2 L436.5 165.4 L436.8 158 L437 157.5 L437.3 163.4 L437.6 161.9 L437.9 163.2 L438.1 158.1 L438.4 155.9 L438.7 165.6 L438.9 162.2 L439.2 150.6 L439.5 145.2 L439.7 144.7 L440 166.3 L440.3 153 L440.6 159.2 L440.8 157.4 L441.1 165 L441.4 147.9 L441.6 164.8 L441.9 165 L442.2 154.2 L442.4 161.5 L442.7 154.1 L443 156.1 L443.3 150.6 L443.5 158 L443.8 149.2 L444.1 163.4 L444.3 164.4 L444.6 153.3 L444.9 156 L445.1 164.1 L445.4 162.8 L445.7 164.1 L446 168 L446.2 167.6 L446.5 167.1 L446.8 166.4 L447 167.6 L447.3 163.8 L447.6 164.5 L447.8 165.3 L448.1 168 L448.4 168.5 L448.7 165.8 L448.9 164.8 L449.2 165.9 L449.5 165.7 L449.7 166.2 L450 165.6 L450.3 164.6 L450.5 165.3 L450.8 163.8 L451.1 167.1 L451.4 165.2 L451.6 168.8 L451.9 166.1 L452.2 165.2 L452.4 164.1 L452.7 165.9 L453 168.7 L453.2 167.9 L453.5 166.8 L453.8 164.1 L454.1 168.4 L454.3 164.1 L454.6 168.7 L454.9 165.4 L455.1 163.5 L455.4 166 L455.7 164.8 L455.9 166.2 L456.2 167.2 L456.5 167.5 L456.8 166 L457 167.7 L457.3 165.8 L457.6 163.5 L457.8 168 L458.1 167.5 L458.4 168.1 L458.6 164.6 L458.9 166.1 L459.2 167.3 L459.5 166.8 L459.7 164.8 L460 164.3 L460.3 167.6 L460.5 165.5 L460.8 167.2 L461.1 166 L461.3 165.1 L461.6 166.6 L461.9 166.3 L462.2 165 L462.4 163.2 L462.7 168.3 L463 166.7 L463.2 167 L463.5 167.1 L463.8 168.5 L464 166.3 L464.3 166.1 L464.6 164.3 L464.9 164.6 L465.1 166.8 L465.4 166.4 L465.7 166.9 L465.9 167.5 L466.2 166.8 L466.5 166.3 L466.7 167.8 L467 167.9 L467.3 167.2 L467.6 167.1 L467.8 167.2 L468.1 167 L468.4 164.3 L468.6 166.4 L468.9 163.7 L469.2 168 L469.4 168.3 L469.7 167.9 L470 166.6 L470.3 168 L470.5 165 L470.8 166 L471.1 164.3 L471.3 163.8 L471.6 167.2 L471.9 165.6 L472.1 167.1 L472.4 167.5 L472.7 164.5 L473 164.8 L473.2 167.1 L473.5 167.5 L473.8 168.4 L474 163.8 L474.3 165 L474.6 165.7 L474.8 165.5 L475.1 166.1 L475.4 167.4 L475.7 164.4 L475.9 164.8 L476.2 167.1 L476.5 165.3 L476.7 165.5 L477 166 L477.3 165.8 L477.5 165.6 L477.8 167.2 L478.1 166.4 L478.4 166 L478.6 166.3 L478.9 168.3 L479.2 163.8 L479.4 166.2 L479.7 165.2 L480 166.9 L480.2 166.2 L480.5 163.7 L480.8 165.3 L481.1 166.1 L481.3 165.4 L481.6 168.2 L481.9 168.1 L482.1 164.6 L482.4 167.5 L482.7 165.7 L482.9 165.4 L483.2 165.8 L483.5 165.7 L483.8 165.7 L484 166.8 L484.3 167.3 L484.6 168 L484.8 167.4 L485.1 168.6 L485.4 165.7 L485.6 167.7 L485.9 165.4 L486.2 164.8 L486.5 167.7 L486.7 164.5 L487 167.9 L487.3 166.9 L487.5 165.7 L487.8 166.4 L488.1 165 L488.3 166.7 L488.6 164.6 L488.9 163.1 L489.2 166.5 L489.4 168 L489.7 165.2 L490 166.2 L490.2 163.5 L490.5 167.7 L490.8 166.6 L491 164.7 L491.3 165.6 L491.6 166.6 L491.9 165.5 L492.1 164.9 L492.4 167.8 L492.7 165.3 L492.9 164.3 L493.2 168.4 L493.5 167.1 L493.7 168.7 L494 164.8 L494.3 167.5 L494.6 165.3 L494.8 167.4 L495.1 164.8 L495.4 150.5 L495.6 150.5 L495.9 153.8 L496.2 148.4 L496.4 151.8 L496.7 147.8 L497 111.5 L497.3 125.6 L497.5 140.9 L497.8 69.9 L498.1 85.4 L498.3 138.3 L498.6 105.3 L498.9 105.1 L499.1 102.1 L499.4 91.7 L499.7 65.6 L500 132 L500.2 103.4 L500.5 104.7 L500.8 102.6 L501 105.3 L501.3 73.5 L501.6 85.7 L501.8 88.7 L502.1 126.6 L502.4 110.1 L502.7 89.5 L502.9 107.6 L503.2 63.4 L503.5 78.3 L503.7 82.1 L504 127.3 L504.3 93.6 L504.5 85.4 L504.8 140.3 L505.1 66.2 L505.4 103.2 L505.6 100.2 L505.9 110.1 L506.2 116.8 L506.4 113.3 L506.7 131.3 L507 114.4 L507.2 122.9 L507.5 94.5 L507.8 106.6 L508.1 84.9 L508.3 140.8 L508.6 126 L508.9 137.3 L509.1 144.6 L509.4 117.1 L509.7 129.5 L509.9 118.8 L510.2 94.8 L510.5 101.9 L510.8 152.8 L511 123.5 L511.3 109.8 L511.6 140.2 L511.8 137.6 L512.1 161.4 L512.4 149.4 L512.6 119.3 L512.9 112.4 L513.2 133 L513.5 146.8 L513.7 140 L514 153.3 L514.3 152.2 L514.5 153 L514.8 159.1 L515.1 146.8 L515.3 139.1 L515.6 140.2 L515.9 157.7 L516.2 155.9 L516.4 156.5 L516.7 154.1 L517 139 L517.2 152 L517.5 149.6 L517.8 115.6 L518 162.1 L518.3 119.5 L518.6 146.4 L518.9 158.3 L519.1 157.1 L519.4 148 L519.7 158.2 L519.9 161.3 L520.2 152.4 L520.5 142.8 L520.7 153.8 L521 144.8 L521.3 141.5 L521.6 154.3 L521.8 160.7 L522.1 160.1 L522.4 149.2 L522.6 121.7 L522.9 146.5 L523.2 139.7 L523.4 139.2 L523.7 156.1 L524 112.6 L524.3 139.7 L524.5 127.8 L524.8 127.1 L525.1 120.8 L525.3 114.7 L525.6 157.1 L525.9 155.2 L526.1 141.8 L526.4 158.8 L526.7 161.3 L527 151 L527.2 105.9 L527.5 150.5 L527.8 127.2 L528 132.3 L528.3 157.6 L528.6 123 L528.8 157.8 L529.1 159 L529.4 112.5 L529.7 138.4 L529.9 124.1 L530.2 118.9 L530.5 125.4 L530.7 146.6 L531 126.7 L531.3 127.3 L531.5 116.5 L531.8 122.1 L532.1 114 L532.4 155.7 L532.6 161.9 L532.9 155.5 L533.2 148.1 L533.4 139.7 L533.7 153.2 L534 132.6 L534.2 118.7 L534.5 159 L534.8 141.5 L535.1 156.7 L535.3 129.3 L535.6 161.4 L535.9 164.7 L536.1 135 L536.4 148.2 L536.7 160.4 L536.9 154.8 L537.2 149.6 L537.5 163.4 L537.8 145.6 L538 145.6 L538.3 161 L538.6 161.2 L538.8 164.8 L539.1 137.4 L539.4 162.8 L539.6 155.1 L539.9 163.3 L540.2 149.9 L540.5 154.2 L540.7 161.2 L541 166.9 L541.3 166 L541.5 165.2 L541.8 167.3 L542.1 167.2 L542.3 163.5 L542.6 165.3 L542.9 162.9 L543.2 167.2 L543.4 164.9 L543.7 166.1 L544 165.5 L544.2 165.3 L544.5 163.4 L544.8 165.4 L545 166.7 L545.3 164.8 L545.6 165.6 L545.9 163.1 L546.1 165.7 L546.4 167.7 L546.7 162.3 L546.9 167.2 L547.2 166.8 L547.5 166 L547.7 165.9 L548 165.1 L548.3 166.1 L548.6 162.9 L548.8 164 L549.1 165.6 L549.4 164.6 L549.6 167.9 L549.9 165.1 L550.2 164.9 L550.4 167.6 L550.7 164.9 L551 165.7 L551.3 168.1 L551.5 167.4 L551.8 162.5 L552.1 168 L552.3 164.5 L552.6 167.3 L552.9 168.3 L553.1 167.1 L553.4 164.3 L553.7 166.7 L554 165.9 L554.2 165.2 L554.5 168 L554.8 165.2 L555 165.8 L555.3 165.7 L555.6 166.2 L555.8 166.8 L556.1 166.4 L556.4 166.1 L556.7 164.7 L556.9 166.3 L557.2 168.1 L557.5 168 L557.7 165 L558 166.4 L558.3 168.4 L558.5 165 L558.8 165.7 L559.1 165.5 L559.4 163.9 L559.6 167.6 L559.9 165.5 L560.2 167.2 L560.4 166.6 L560.7 165.2 L561 168.4 L561.2 168.4 L561.5 166.2 L561.8 165.9 L562.1 167.1 L562.3 167.1 L562.6 164.9 L562.9 167.8 L563.1 165.7 L563.4 164.2 L563.7 165.2 L563.9 165.6" fill="none" stroke="#a56fd3" stroke-width="0.95" stroke-linejoin="round"/>
<path d="M71.4 169.3 V163.3 M76 169.3 V162.3 M80.5 169.3 V163.3 M157.7 169.3 V142.3 M171 169.3 V159.3 M173.6 169.3 V158.3 M179.6 169.3 V158.3 M211 169.3 V84.6 M223 169.3 V85.3 M208.5 169.3 V118.3 M212.8 169.3 V104.3 M229.4 169.3 V118.3 M267.3 169.3 V141.3 M278.7 169.3 V148.3 M282 169.3 V150.3 M288.2 169.3 V146.3 M290 169.3 V133.3 M291.5 169.3 V140.3 M294 169.3 V150.3 M304 169.3 V158.3 M344.6 169.3 V67.3 M339.5 169.3 V82.3 M341 169.3 V90.3 M360.5 169.3 V152.3 M363 169.3 V148.3 M366 169.3 V153.3 M383 169.3 V156.3 M388 169.3 V157.3 M393 169.3 V158.3 M399.5 169.3 V157.3 M422.5 169.3 V83.6 M424.5 169.3 V106.3 M419 169.3 V112.3 M409 169.3 V114.3 M456 169.3 V152.3 M461.6 169.3 V150.3 M463.8 169.3 V143.3 M466.6 169.3 V150.3 M474.7 169.3 V109.3 M485.7 169.3 V110.3 M479 169.3 V160.3 M500.3 169.3 V28.3 M502.3 169.3 V52.3 M504.5 169.3 V77.3 M499 169.3 V82.3 M505 169.3 V80.3 M516.4 169.3 V95.3 M523 169.3 V102.3 M532.8 169.3 V112.3 M547.7 169.3 V81.6 M552.5 169.3 V152.3 M560 169.3 V158.3" fill="none" stroke="#a56fd3" stroke-width="0.8"/>
<path d="M68.9 286.3 V308.6 M71 234.2 V262 M73.7 271.9 V296.5 M76.1 264.1 V292.9 M78 282.9 V312.1 M79 299.3 V318.5 M81.3 297.9 V316.1 M83.7 225.9 V259 M85.6 259.6 V282.2 M86.6 244.6 V266.8 M88.5 260.5 V296.5 M91.3 272.9 V299.3 M94.7 218.3 V251.4 M98 233 V259.5 M99.5 239.1 V268.6 M102.1 234 V254.7 M105.2 244.8 V274.2 M107.4 231.3 V265 M110.9 232.5 V259.9 M113.1 253.3 V284.7 M116 278.6 V308.7 M118.8 261.3 V280.5 M120.7 234.2 V265.9 M123.6 237.6 V266.3 M126 236.4 V259.9 M128.7 288.2 V306.8 M130.2 221.9 V255.4 M133.1 253.9 V280.4 M134.4 230.8 V261.7 M135.9 244.5 V278.3 M137.8 232.7 V263.6 M140.7 251.7 V286.3 M143.9 265 V290.1 M148.8 250.9 V283.3 M154.3 251.3 V277.3 M160 261.1 V295.9 M165.3 239.8 V273.6 M171 264.8 V284.6 M176.1 235.1 V255.5 M179.2 287.5 V309.4 M181.5 268.4 V303.8 M183.4 288.4 V314.2 M186.2 288.5 V317.8 M188 274.4 V297.8 M190.4 287.7 V314.8 M194.2 271.7 V296.7 M196.7 289.1 V313.4 M199.5 218.7 V247.2 M201.8 252.9 V281.4 M205.1 230.1 V264.3 M210 255.8 V286.1 M214.7 240.3 V275 M219.9 277.9 V311.3 M223.6 241.6 V277.4 M227.4 229.3 V259.4 M231.2 249.1 V270 M234.7 237.1 V270.6 M236.9 247.5 V282.9 M241.1 232.9 V267.2 M243.6 264.4 V292.6 M245.9 227 V257.9 M247.9 279 V300.8 M250.2 254.4 V287.4 M255 264.3 V292.7 M257.8 286.9 V310 M260.7 286 V305.2 M267.3 277.9 V311.3 M273.9 272 V307.8 M277.7 261.1 V280.7 M281.5 230 V262.4 M285.3 271.5 V296.9 M288.2 251.1 V271.8 M292 274.4 V297.7 M293.9 260.7 V292.5 M296.7 271.1 V304.8 M300.1 274.8 V293.6 M303.9 222.2 V251.3 M307.2 280.5 V299.3 M308.9 293.4 V324.3 M310.8 285.5 V309.5 M312.7 189.5 V223.3 M314.2 283.5 V319.1 M315.6 257.4 V284.5 M318 202.6 V238.6 M320.9 223.1 V246.6 M323.7 227.1 V246.4 M330.4 229.9 V258.7 M337 234.1 V252.7 M340.8 249.7 V271.3 M344.6 219.3 V244.7 M347.8 218.5 V247.5 M350.7 253.9 V274.7 M354.1 218.8 V237.6 M357.9 261.7 V295.3 M360.7 221.1 V244.8 M364.5 234.3 V269.6 M367.4 218.7 V252.9 M369.6 245.2 V270 M372.1 220.8 V247 M375 232.6 V259.9 M376.9 246.6 V276.2 M378.8 228.1 V256.8 M381.6 260.7 V288.7 M383.9 284.8 V314 M386.4 249.7 V284.6 M389.2 236.5 V263.6 M392.6 246.6 V272.4 M395.8 234.6 V265.5 M398.7 273.1 V295.3 M401.9 289.6 V313 M404.9 281.6 V317.2 M408.7 261 V288.4 M410.6 221.9 V249.7 M412.9 244.7 V262.9 M416.1 218.3 V243.8 M419.2 216.8 V245.3 M420 225.2 V243.6 M423.9 268 V297.1 M426.6 238.3 V267.7 M430.9 257.7 V276.8 M434.9 219.8 V249.1 M440.4 256.3 V282.6 M443 219.3 V249.5 M445.8 264.9 V289.3 M449.1 265 V295.8 M453.3 288.8 V320.1 M458.3 287.6 V306 M466 290.6 V309.7 M469.9 268.6 V298.8 M473.6 280.2 V315.6 M478 284.5 V307 M483.5 285.9 V312.1 M492.3 285.8 V314.4 M496.6 211.6 V235.3 M499.3 233.1 V257.6 M506.5 253.3 V276.9 M513.7 252.8 V277.4 M520.7 221.2 V249.9 M527.7 219.4 V242.8 M535 218.7 V243.5 M542 236 V267.9 M549.2 251.5 V269.9 M556.2 247.7 V275.9 M563.4 215.5 V246.7 M180.3 280.5 V304 M182.4 281.3 V306 M184.8 287.7 V316.8 M187.1 282.8 V306.4 M189.2 281.6 V305.7 M192.3 280.2 V305.3 M195.5 282.6 V302.8 M327 228.5 V252.6 M333.7 231.1 V256.6 M338.9 238.2 V265.7 M342.7 236.7 V255.8 M346.2 221.7 V243.3 M352.4 236.7 V255.8 M356 239.5 V267.2 M362.6 229.3 V255.6 M390.9 245.5 V264 M394.2 239.9 V269.7 M400.3 277.9 V307.5 M406.8 274.1 V300 M414.5 229.8 V255.1 M422 248.6 V268.4 M428.8 251.1 V269.2 M432.9 238.7 V263 M437.6 242.6 V261.3 M447.5 268.6 V288.9 M451.2 282 V302.9 M455.8 291.5 V309.8 M462.2 286.7 V310.3 M468 280.3 V303.5 M471.8 276.7 V304.9 M475.8 284.7 V308.9 M480.8 284.5 V310.2 M487.9 287.6 V311.6" fill="none" stroke="#909090" stroke-opacity="0.62" stroke-width="1.6"/>
<path d="M68.9 297.5 L71 248.1 L73.7 284.2 L76.1 278.5 L78 297.5 L79 308.9 L81.3 307 L83.7 242.4 L85.6 270.9 L86.6 255.7 L88.5 278.5 L91.3 286.1 L94.7 234.9 L98 246.2 L99.5 253.8 L102.1 244.3 L105.2 259.5 L107.4 248.1 L110.9 246.2 L113.1 269 L116 293.7 L118.8 270.9 L120.7 250 L123.6 251.9 L126 248.1 L128.7 297.5 L130.2 238.6 L133.1 267.1 L134.4 246.2 L135.9 261.4 L137.8 248.1 L140.7 269 L143.9 277.6 L148.8 267.1 L154.3 264.3 L160 278.5 L165.3 256.7 L171 274.7 L176.1 245.3 L179.2 298.4 L181.5 286.1 L183.4 301.3 L186.2 303.2 L188 286.1 L190.4 301.3 L194.2 284.2 L196.7 301.3 L199.5 233 L201.8 267.1 L205.1 247.2 L210 270.9 L214.7 257.6 L219.9 294.6 L223.6 259.5 L227.4 244.3 L231.2 259.5 L234.7 253.8 L236.9 265.2 L241.1 250 L243.6 278.5 L245.9 242.4 L247.9 289.9 L250.2 270.9 L255 278.5 L257.8 298.4 L260.7 295.6 L267.3 294.6 L273.9 289.9 L277.7 270.9 L281.5 246.2 L285.3 284.2 L288.2 261.4 L292 286.1 L293.9 276.6 L296.7 288 L300.1 284.2 L303.9 236.8 L307.2 289.9 L308.9 308.9 L310.8 297.5 L312.7 206.4 L314.2 301.3 L315.6 270.9 L318 220.6 L320.9 234.9 L323.7 236.8 L330.4 244.3 L337 243.4 L340.8 260.5 L344.6 232 L347.8 233 L350.7 264.3 L354.1 228.2 L357.9 278.5 L360.7 233 L364.5 251.9 L367.4 235.8 L369.6 257.6 L372.1 233.9 L375 246.2 L376.9 261.4 L378.8 242.4 L381.6 274.7 L383.9 299.4 L386.4 267.1 L389.2 250 L392.6 259.5 L395.8 250 L398.7 284.2 L401.9 301.3 L404.9 299.4 L408.7 274.7 L410.6 235.8 L412.9 253.8 L416.1 231.1 L419.2 231.1 L420 234.4 L423.9 282.6 L426.6 253 L430.9 267.3 L434.9 234.4 L440.4 269.5 L443 234.4 L445.8 277.1 L449.1 280.4 L453.3 304.5 L458.3 296.8 L466 300.1 L469.9 283.7 L473.6 297.9 L478 295.7 L483.5 299 L492.3 300.1 L496.6 223.5 L499.3 245.4 L506.5 265.1 L513.7 265.1 L520.7 235.5 L527.7 231.1 L535 231.1 L542 251.9 L549.2 260.7 L556.2 261.8 L563.4 231.1" fill="none" stroke="#808080" stroke-width="1.4" stroke-linejoin="round"/>
<path d="M68.9 278.1 L71.4 268.6 L72.3 269 L73.7 284.2 L75.6 283.2 L77.5 291.8 L79 299 L81.3 298.4 L82.8 278.5 L83.7 277.6 L85.1 261.4 L86.6 269 L87.9 265.2 L90 278.5 L91.3 276.6 L93.2 257.6 L95.5 240.5 L98 247.2 L99.9 248.1 L102.1 252.9 L104.6 251 L107.4 251.9 L109 246.2 L110.9 245.9 L113.1 261.4 L116 271.9 L118.3 273.2 L120.7 259.5 L123.6 250 L126 266.2 L128.7 261.4 L130.2 260.5 L131.7 252.9 L133.1 255.4 L134.4 262.4 L135.9 256.7 L137.8 257.2 L140.7 265.2 L144.5 271.3 L148.2 270 L154.9 270.5 L160 266.7 L165.3 270.5 L171 259.5 L176.1 256.1 L179.2 296.5 L180.5 291.8 L182.8 290.8 L185.3 298.4 L188.1 297.5 L190.4 298.4 L192.3 295.6 L194.2 291.8 L196.7 299.4 L199.9 252.9 L201.8 256.7 L205.1 266.2 L210 258.6 L215.1 273.2 L219.9 270 L223.6 266.7 L228.4 254.2 L230.9 254.8 L235 259.5 L238.8 260.5 L241.1 266.7 L243.6 260.5 L245.9 276.6 L247.9 268.1 L250.2 285.1 L252.5 277.6 L255 288.9 L256.9 289.9 L260.7 297.1 L265.4 295.2 L271.1 294.1 L273.9 288.9 L278.1 272.4 L280.6 272.8 L284.8 268.1 L288.2 283.2 L292 278.5 L293.9 282.3 L296.1 283.2 L299.2 290.8 L303.9 264.8 L307.2 289.9 L308.9 298.4 L310.8 298.4 L312.7 219.7 L314.2 255.7 L315.6 280.4 L317.5 232 L319 229.2 L323.7 237.7 L330.4 245.3 L334.2 245.3 L337.4 250 L340.8 245.3 L347.8 238.6 L350.3 252.9 L354.1 233 L355 233 L357.9 260.5 L361.7 239 L364.5 247.2 L366.4 249.1 L368.3 249.1 L369.6 255.7 L373.1 240.5 L375 242.4 L376.5 251.9 L378.8 247.2 L380.7 270.9 L383.1 288 L385 272.8 L386.9 255.7 L390.1 259.5 L392.6 253.8 L395.8 270.9 L398.7 281.4 L401.9 298.4 L404.9 299 L408.7 274.7 L412.9 241.5 L416.1 239.6 L418.6 234.9 L420 238.8 L422.6 254.1 L426.6 267.9 L430.9 258.5 L434.9 247.1 L437.5 248.6 L440.8 248.6 L443 259.6 L445.8 264 L450.2 276 L453.3 300.1 L457.2 298.4 L461.6 298.6 L466 294.6 L469.9 294.6 L473.6 293.5 L478 297.9 L482.4 298.4 L487.9 300.1 L492.3 300.1 L496.6 233.3 L499.3 244.3 L506.5 258.1 L513.7 255.2 L527.7 232.9 L535 239.5 L549.2 259.2 L556.9 251.5" fill="none" stroke="#000" stroke-width="2" stroke-linejoin="round"/>
<path d="M68.5 427.5 L71.4 426.5 L73.3 428.4 L75.2 425.6 L76.7 428.4 L78.4 421.8 L80.9 406.6 L83.2 378.1 L85.6 355.4 L86.9 400.9 L88.5 416.1 L90.4 417 L92.3 414.2 L94.2 417 L95.7 419.9 L98 400.9 L99.9 408.5 L101.4 404.7 L104 414.2 L105.5 411.4 L107.4 418.9 L109.7 415.1 L113.1 418 L116 406.6 L117.9 414.2 L119.8 416.1 L122.2 419.9 L124.5 428.4 L126.8 421.8 L128.7 423.7 L131.2 385.4 L133.1 416.1 L135 419.9 L136.9 413.2 L139.7 414.2 L142.9 411.4 L144.8 414.2 L149.2 404.7 L152.6 400.9 L156.2 408.5 L158.7 410.4 L163.4 408.5 L167.2 416.1 L170.1 418 L172.9 416.1 L175.8 418.9 L179 395.2 L179.9 404.7 L182.4 387.6 L184.7 381.9 L186.2 389.5 L188.1 387.6 L189.5 400.9 L191 399 L192.3 410.4 L193.7 397.1 L195.2 381.9 L196.7 397.1 L197.6 414.2 L198.4 353.5 L199 332.6 L199.9 363 L200.9 378.1 L202.4 381.9 L203.7 381.9 L205.6 395.2 L207.5 404.7 L210.4 416.1 L213.2 418 L215.1 415.1 L218 419.9 L219.9 420.8 L222.7 410.4 L225.2 406.6 L227.4 414.2 L229.7 419.9 L232.2 418.9 L235 417 L237.9 419.9 L239.8 414.2 L242.6 413.2 L245.5 412.3 L247.4 415.1 L249.3 421.8 L251.2 424.6 L254 420.8 L256.9 422.7 L259.7 423.7 L262.6 421.8 L264.5 423.7 L266.4 425.6 L270.1 424.6 L274.9 425.6 L277.7 423.7 L279.6 426.5 L283.4 429.4 L287.2 428.4 L290.1 429.4 L292.9 429.4 L295.8 432.2 L298 435.1 L300.5 430.3 L303 424.6 L305.3 427.5 L308.1 424.6 L308.5 424.6 L310.4 430.3 L312 418 L313.7 421.8 L315.2 410.4 L316.7 406.6 L318 395.2 L319.9 406.6 L321.8 402.8 L324.3 402.8 L326.6 407.6 L329.4 403.8 L332.3 408.5 L336.1 405.7 L338.9 409.5 L341.8 414.2 L344.6 422.7 L347.4 423.7 L350.3 421.8 L353.1 419.9 L355.4 424.6 L357.9 419.9 L361.1 411.4 L363.6 418 L366.4 415.1 L369.3 419.9 L371.7 423.7 L374 416.1 L375.9 413.2 L377.4 421.8 L379.7 425.6 L382.6 421.8 L385.4 415.1 L389.2 418 L393 414.2 L396.8 413.2 L400.6 402.8 L402.5 406.6 L404 391.4 L405.5 366.8 L406.8 344 L408.6 366.8 L410.6 387.6 L412.4 400.9 L413.9 416.1 L416.7 414.2 L418.6 404.7 L420.5 400 L421.8 400.5 L423.3 409.3 L427.7 413.7 L430.9 408.2 L433.1 411.5 L435.3 408.2 L439.7 407.1 L441.9 409.3 L445.2 404.9 L448 401.6 L449.6 403.8 L451.3 386.3 L452.2 378.2 L452.8 406 L454.6 400.5 L456.8 407.1 L459 401.6 L462.7 399.5 L467.1 396.2 L471.5 394 L472.6 389.6 L474.1 389.6 L475.8 376.5 L477.4 373.6 L479.1 370.5 L480.9 373.6 L482.4 388.5 L483.9 395.1 L485 401.6 L486.4 399.5 L487.9 408.2 L489.6 410.8 L491.8 407.1 L493.4 379.7 L494.5 350.2 L495.5 353.5 L496.6 377.6 L498.2 376.5 L499.3 388.5 L502.8 394 L506.5 406 L508.7 411.5 L511.5 412.2 L514.2 410.8 L516.4 412.6 L519.6 419.6 L524 417.4 L527.7 415.4 L530.6 418.1 L533.9 419.8 L537.2 419.2 L540 420.3 L543.7 418.5 L548.1 417.6 L552.5 417 L556.9 413.7" fill="none" stroke="#6a6a6a" stroke-width="1.3" stroke-linejoin="round"/>
<path d="M68.5 425.6 L73.3 422.2 L78.4 418.9 L80.9 410.4 L83.2 387.6 L85.6 352.5 L86.9 381.9 L88.1 409.5 L91.3 411.4 L93.2 409.5 L98.5 396.7 L102.7 404.7 L106.5 410 L111.2 412.3 L115 414.2 L120.7 418 L125.5 409.5 L130.6 418 L134 411 L136.9 415.5 L139.7 414.2 L144.5 415.7 L153 417.4 L160.6 418.6 L169.1 417.6 L175.8 418 L180.5 405.7 L184.7 380 L187.2 384.8 L187.6 383.8 L190.4 395.2 L192.9 402.8 L195.6 387.6 L197.5 363 L199 333.5 L200.3 363 L201.4 383.8 L204.7 393.3 L208.5 401.9 L213.2 405.7 L218 408.1 L222.7 410 L227.4 415.1 L231.2 418.9 L235 418 L238.8 419.9 L242.6 421.8 L246.4 423.7 L251.2 426.5 L255.9 427.5 L262.6 428.4 L267.3 426.5 L273 426.2 L278.7 427.1 L284.4 428.1 L292 429 L294.8 429.9 L298.6 433.2 L303.4 429 L306.2 430.9 L308.5 431.7 L311 432.8 L312.9 423.7 L314.2 421.8 L315.6 425.6 L316.7 412.3 L318 397.1 L319.4 412.3 L322.8 412.3 L327.5 411.9 L333.2 410.8 L338 412.3 L341.8 417 L346.5 421.8 L352.2 425.6 L356 423.7 L358.8 420.8 L361.1 416.1 L363.6 418.9 L366.4 418.9 L371.2 422.7 L374 419.9 L375.9 421.8 L378.4 424.6 L380.7 420.8 L383.5 418.9 L386.4 416.1 L390.1 417 L393.9 415.1 L397.7 412.3 L400.6 406.6 L403.4 399 L405.3 372.4 L406.8 343 L408.6 368.6 L410.6 389.5 L412 402.8 L414.8 400.9 L419.6 403.8 L420 407.1 L423.3 411.5 L427.7 414.8 L430.9 410.8 L435.3 411.9 L439.7 412.2 L444.1 411.5 L448 409.3 L449.6 399.5 L451.1 388.5 L452.2 384.1" fill="none" stroke="#850b0b" stroke-width="1.9" stroke-linejoin="round"/>
<path d="M321 409.3 V415.3 M325.4 409.1 V415.1 M329.8 408.5 V414.5 M334.2 408.1 V414.1 M338.6 410.1 V416.1 M343 415.3 V421.3 M347.4 419.4 V425.4 M351.8 422.3 V428.3 M356.2 420.5 V426.5 M360.6 414.2 V420.2 M365 415.9 V421.9 M369.4 418.3 V424.3 M373.8 417.1 V423.1 M378.2 421.4 V427.4 M382.6 416.5 V422.5 M387 413.3 V419.3 M391.4 413.4 V419.4 M395.8 410.8 V416.8 M400.2 404.4 V410.4 M404.6 379.6 V385.6 M409 370.1 V376.1 M413.4 398.9 V404.9 M417.8 399.7 V405.7 M422.2 407.1 V413.1 M426.6 411 V417 M431 407.9 V413.9 M435.4 408.9 V414.9 M439.8 409.1 V415.1 M444.2 408.4 V414.4 M448.6 402.6 V408.6" fill="none" stroke="#850b0b" stroke-width="1"/>
<path d="M68.5 523.4 L73.3 522 L78.4 520.1 L80.9 515.4 L83.2 500.2 L85.2 479.3 L86.6 502.1 L87.9 515.4 L90.4 517.3 L92.3 516.9 L95.1 513.5 L98.5 509.3 L101.8 513.5 L105.5 516.9 L109.3 518.2 L113.1 519.2 L117.9 521.1 L121.1 521.1 L125.5 516.7 L130.6 520.1 L133.6 516.4 L135.3 516.9 L137.8 518.6 L140.7 517.9 L145.4 518.4 L153 519.2 L160.6 519.6 L169.1 518.8 L175.8 517.9 L178.6 513.5 L181.5 505.9 L183.4 497.4 L184.9 494.5 L187.5 496.4 L190.4 504 L192.9 509.3 L195.6 501.2 L197.5 486.9 L199 468.9 L200.3 486.9 L201.4 500.2 L204.7 505.9 L208.5 512.6 L213.2 514.5 L218 516.4 L222.7 517.7 L227.4 520.1 L231.2 521.7 L235 521.1 L238.8 522.6 L242.6 523.6 L246.4 524.5 L251.2 525.3 L255.9 525.5 L262.6 525.1 L267.3 524.3 L273 523.8 L278.7 524.1 L284.4 524.5 L292 525.5 L294.8 525.8 L298.6 526.8 L303.4 525.5 L306.2 526.2 L308.9 526.2 L311.2 526.9 L313.1 522.3 L314.5 521.1 L315.9 522.7 L316.8 517.6 L318.2 511.8 L319.6 517.6 L323.4 517.6 L328 516.9 L333.9 516.4 L338.5 517.6 L343.2 519.9 L347.9 522.7 L352.6 524.6 L357.2 523.4 L361.9 521.1 L366.6 521.6 L370.1 522.3 L373.6 521.6 L377.1 522.3 L380.6 520.6 L384.1 519.2 L387.6 518.3 L392.3 517.6 L396.9 516 L400.4 511.8 L403.2 505.9 L405.1 495.4 L406.7 482.6 L408.4 497.7 L410.2 512.9 L414.5 511.3 L419.1 513.6 L423.8 516.9 L427.3 518.3 L432 516.4 L435.5 516.9 L440.1 516 L444.8 514.6 L447.6 512.9 L450 509.4 L451.8 504.3" fill="none" stroke="#ff9a38" stroke-width="1.4" stroke-linejoin="round"/>
<path d="M68.5 517.3 L73.3 515.8 L78.4 513.5 L80.9 505.9 L83.2 485 L85.6 452.8 L86.9 488.8 L88.1 505 L91.3 507.8 L95.1 503.1 L98.5 496.4 L101.8 503.1 L105.5 507.4 L109.3 508.8 L113.1 512 L117.9 514.6 L121.1 514.6 L125.5 507.8 L130.6 513.1 L133.1 508.4 L135.3 507.8 L137.8 510.8 L140.7 510.3 L145.4 511.2 L153 512.2 L160.6 512.4 L169.1 511.6 L175.8 510.5 L178.6 504.4 L181.5 495.5 L183.4 480.3 L185.3 473.3 L187.5 475.5 L190.4 487.5 L192.9 496.8 L195.6 483.1 L197.5 462.3 L199 436.6 L200.3 463.2 L201.4 480.3 L204.7 489.8 L208.5 499.3 L213.2 504 L218 506.9 L222.7 507.8 L227.4 513.5 L231.2 515.8 L235 515.4 L238.8 518.2 L242.6 520 L246.4 520.9 L251.2 521.9 L255.9 522.4 L262.6 522.2 L267.3 520.5 L273 519.6 L278.7 520.1 L284.4 520.9 L292 522 L294.8 522.6 L298.6 524.1 L303.4 522.4 L306.2 523.6 L308.9 523.4 L311.2 524.6 L313.1 517.6 L314.5 516.4 L315.9 519.2 L316.8 508.2 L318.2 497.7 L319.6 507.1 L323.4 508.2 L328 507.5 L333.9 506.6 L338.5 508.2 L343.2 511.8 L347.9 516.4 L352.6 519.2 L357.2 517.6 L361.2 512.2 L363.1 514.1 L367.7 514.1 L370.1 517.6 L373.6 516.9 L377.1 517.6 L380.6 515.3 L384.1 512.2 L387.6 510.6 L392.3 509.4 L396.9 507.5 L400.4 502.4 L403.2 494.2 L405.1 475.5 L406.7 457.6 L408.4 480.2 L410.2 501.2 L414.5 498.9 L419.1 502.4 L423.8 507.1 L427.3 509.4 L432 507.1 L435.5 508.2 L440.1 505.9 L444.8 504.7 L447.6 502.9 L450 495.4 L451.8 485.6" fill="none" stroke="#ff6a3a" stroke-width="1.4" stroke-linejoin="round"/>
<path d="M68.5 518.8 L73.3 517.3 L78.4 515.4 L80.9 509.7 L83.2 492.6 L85.6 463.2 L86.9 492.6 L88.1 507.8 L90.4 510.1 L92.3 509.3 L95.1 505 L98.5 500.2 L101.8 505.9 L105.5 509.7 L109.3 511.6 L113.1 512.9 L117.9 515 L121.1 515 L125.5 508.2 L130.6 513.5 L133.1 508.8 L135.3 508.2 L137.8 511.2 L140.7 510.7 L145.4 511.6 L153 512.6 L160.6 512.7 L169.1 512.2 L175.8 511 L178.6 505 L181.5 496.4 L183.4 479.3 L185.3 472.7 L187.5 474.6 L190.4 486.9 L192.9 496.4 L195.6 483.1 L197.5 464.2 L199 440.4 L200.3 464.2 L201.4 481.2 L204.7 492.6 L208.5 504 L213.2 507.8 L218 510.1 L222.7 511.6 L227.4 515 L231.2 517.3 L235 516.4 L238.8 518.8 L242.6 520.1 L246.4 521.1 L251.2 522 L255.9 522.6 L262.6 522.4 L267.3 520.7 L273 519.8 L278.7 520.3 L284.4 521.1 L292 522.4 L294.8 523 L298.6 524.5 L303.4 523 L306.2 524.1 L308.9 524.1 L311.2 525.3 L313.1 518.3 L314.5 516.9 L315.9 519.9 L316.8 509.4 L318.2 498.9 L319.6 510.6 L323.4 511.8 L328 511.3 L333.9 510.6 L338.5 512.2 L343.2 515.3 L347.9 518.8 L352.6 521.1 L357.2 519.5 L361.9 516.4 L366.6 516 L370.1 518.3 L373.6 517.6 L377.1 518.3 L380.6 516 L384.1 513.6 L387.6 511.8 L392.3 510.6 L396.9 508.9 L400.4 503.6 L403.2 495.4 L405.1 476.7 L406.7 458 L408.4 481.4 L410.2 504.7 L414.5 502.4 L419.1 505.9 L423.8 509.9 L427.3 511.1 L432 508.2 L435.5 509.4 L440.1 506.6 L444.8 505.4 L447.6 503.6 L450 496.6 L451.8 487.2" fill="none" stroke="#850b0b" stroke-width="1.5" stroke-linejoin="round"/>
<g fill="#8a8a8a" fill-opacity="0.95"><rect x="68.7" y="624.2" width="1.5" height="10.1"/><rect x="73.2" y="612.8" width="0.9" height="21.5"/><rect x="78.5" y="618.5" width="0.9" height="15.8"/><rect x="83.2" y="591" width="0.9" height="43.3"/><rect x="88.9" y="611.9" width="0.9" height="22.4"/><rect x="90.8" y="611.9" width="0.9" height="22.4"/><rect x="94.6" y="612.8" width="0.9" height="21.5"/><rect x="96.4" y="618.5" width="1.1" height="15.8"/><rect x="104.1" y="611.9" width="0.9" height="22.4"/><rect x="105.1" y="623.2" width="0.9" height="11.1"/><rect x="107" y="623.2" width="0.9" height="11.1"/><rect x="111.7" y="601.4" width="0.9" height="32.9"/><rect x="116.2" y="618.5" width="1.5" height="15.8"/><rect x="124" y="610.9" width="1.1" height="23.4"/><rect x="130.1" y="610" width="0.9" height="24.3"/><rect x="133.3" y="623.2" width="0.9" height="11.1"/><rect x="135.4" y="623.2" width="0.9" height="11.1"/><rect x="137.5" y="623.2" width="0.9" height="11.1"/><rect x="144.5" y="618.5" width="9.9" height="15.8"/><rect x="144.4" y="612.8" width="0.9" height="21.5"/><rect x="165.2" y="611.9" width="0.9" height="22.4"/><rect x="169.6" y="623.2" width="0.9" height="11.1"/><rect x="174.3" y="612.8" width="0.9" height="21.5"/><rect x="177.6" y="611.9" width="0.9" height="22.4"/><rect x="181" y="623.2" width="0.9" height="11.1"/><rect x="183.5" y="623.2" width="0.9" height="11.1"/><rect x="181.4" y="623.2" width="0.9" height="11.1"/><rect x="183.3" y="623.2" width="0.9" height="11.1"/><rect x="190.3" y="623.2" width="0.9" height="11.1"/><rect x="194.4" y="610.9" width="1.5" height="23.4"/><rect x="197.4" y="558.2" width="0.9" height="76.1"/><rect x="199.8" y="579.6" width="0.9" height="54.7"/><rect x="201" y="591" width="0.9" height="43.3"/><rect x="204.1" y="612.8" width="1.1" height="21.5"/><rect x="209.5" y="591" width="0.9" height="43.3"/><rect x="216.5" y="612.8" width="0.9" height="21.5"/><rect x="218.8" y="612.8" width="0.9" height="21.5"/><rect x="215.6" y="626.1" width="0.9" height="8.2"/><rect x="217.5" y="626.1" width="0.9" height="8.2"/><rect x="219.4" y="626.1" width="0.9" height="8.2"/><rect x="221.3" y="626.1" width="0.9" height="8.2"/><rect x="222.8" y="623.2" width="0.9" height="11.1"/><rect x="225.1" y="623.2" width="0.9" height="11.1"/><rect x="229.8" y="601.4" width="0.9" height="32.9"/><rect x="227.3" y="623.2" width="0.9" height="11.1"/><rect x="229.2" y="623.2" width="0.9" height="11.1"/><rect x="231.1" y="623.2" width="0.9" height="11.1"/><rect x="234.9" y="624.2" width="0.9" height="10.1"/><rect x="236.5" y="624.2" width="0.9" height="10.1"/><rect x="238" y="624.2" width="0.9" height="10.1"/><rect x="251.6" y="623.2" width="0.9" height="11.1"/><rect x="253.3" y="623.2" width="0.9" height="11.1"/><rect x="254.9" y="623.2" width="0.9" height="11.1"/><rect x="256.6" y="623.2" width="0.9" height="11.1"/><rect x="258.2" y="624.2" width="1.1" height="10.1"/><rect x="264.4" y="623.2" width="0.9" height="11.1"/><rect x="274.4" y="623.2" width="0.9" height="11.1"/><rect x="277.3" y="623.2" width="0.9" height="11.1"/><rect x="279.5" y="623.2" width="0.9" height="11.1"/><rect x="272.9" y="629.9" width="0.9" height="4.4"/><rect x="274.6" y="629.9" width="0.9" height="4.4"/><rect x="276.3" y="629.9" width="0.9" height="4.4"/><rect x="278" y="629.9" width="0.9" height="4.4"/><rect x="279.7" y="629.9" width="0.9" height="4.4"/><rect x="283.5" y="623.2" width="0.9" height="11.1"/><rect x="286.8" y="623.2" width="0.9" height="11.1"/><rect x="303.7" y="626.1" width="1.1" height="8.2"/><rect x="299.4" y="628" width="1.1" height="6.3"/><rect x="303.6" y="626.1" width="1.1" height="8.2"/><rect x="310.9" y="612.8" width="0.9" height="21.5"/><rect x="312.4" y="612.8" width="0.9" height="21.5"/><rect x="313.9" y="612.8" width="0.9" height="21.5"/><rect x="316.2" y="591" width="0.9" height="43.3"/><rect x="320" y="623.2" width="0.9" height="11.1"/><rect x="321.7" y="623.2" width="0.9" height="11.1"/><rect x="323.4" y="623.2" width="0.9" height="11.1"/><rect x="325" y="623.2" width="0.9" height="11.1"/><rect x="326.7" y="623.2" width="0.9" height="11.1"/><rect x="328.4" y="623.2" width="0.9" height="11.1"/><rect x="333.1" y="623.2" width="0.9" height="11.1"/><rect x="335" y="623.2" width="0.9" height="11.1"/><rect x="336.9" y="623.2" width="0.9" height="11.1"/><rect x="338.8" y="623.2" width="0.9" height="11.1"/><rect x="340.7" y="623.2" width="0.9" height="11.1"/><rect x="346.4" y="623.2" width="0.9" height="11.1"/><rect x="348.3" y="623.2" width="0.9" height="11.1"/><rect x="350.2" y="623.2" width="0.9" height="11.1"/><rect x="352.1" y="623.2" width="0.9" height="11.1"/><rect x="359.7" y="612.8" width="0.9" height="21.5"/><rect x="359.3" y="623.2" width="0.9" height="11.1"/><rect x="361.2" y="623.2" width="0.9" height="11.1"/><rect x="363.1" y="623.2" width="0.9" height="11.1"/><rect x="365" y="623.2" width="0.9" height="11.1"/><rect x="364.1" y="612.8" width="0.9" height="21.5"/><rect x="366.2" y="622.3" width="1.1" height="12"/><rect x="376.3" y="624.2" width="1.1" height="10.1"/><rect x="378.7" y="623.2" width="0.9" height="11.1"/><rect x="380.3" y="623.2" width="0.9" height="11.1"/><rect x="382" y="623.2" width="0.9" height="11.1"/><rect x="383.6" y="623.2" width="0.9" height="11.1"/><rect x="389" y="626.1" width="1.1" height="8.2"/><rect x="395.9" y="623.2" width="0.9" height="11.1"/><rect x="397.5" y="623.2" width="0.9" height="11.1"/><rect x="399" y="623.2" width="0.9" height="11.1"/><rect x="400.5" y="623.2" width="0.9" height="11.1"/><rect x="401.4" y="601.4" width="0.9" height="32.9"/><rect x="405.4" y="612.8" width="0.9" height="21.5"/><rect x="402" y="624.2" width="0.9" height="10.1"/><rect x="403.6" y="624.2" width="0.9" height="10.1"/><rect x="405.3" y="624.2" width="0.9" height="10.1"/><rect x="406.9" y="624.2" width="0.9" height="10.1"/><rect x="408.5" y="624.2" width="0.9" height="10.1"/><rect x="410.1" y="624.2" width="0.9" height="10.1"/><rect x="411.8" y="624.2" width="0.9" height="10.1"/><rect x="413.4" y="624.2" width="0.9" height="10.1"/><rect x="412.4" y="601.4" width="0.9" height="32.9"/><rect x="416.1" y="601.4" width="0.9" height="32.9"/><rect x="416.2" y="624.2" width="0.9" height="10.1"/><rect x="417.8" y="624.2" width="0.9" height="10.1"/><rect x="419.4" y="624.2" width="0.9" height="10.1"/><rect x="421" y="624.2" width="0.9" height="10.1"/><rect x="422.6" y="624.2" width="0.9" height="10.1"/><rect x="424.1" y="624.2" width="0.9" height="10.1"/><rect x="425.7" y="624.2" width="0.9" height="10.1"/><rect x="426.3" y="612.8" width="0.9" height="21.5"/><rect x="421.6" y="623.3" width="0.9" height="11"/><rect x="423" y="623.3" width="0.9" height="11"/><rect x="424.4" y="623.3" width="0.9" height="11"/><rect x="426.5" y="612.5" width="0.9" height="21.8"/><rect x="430.7" y="623.3" width="0.9" height="11"/><rect x="432.6" y="623.3" width="0.9" height="11"/><rect x="439.2" y="623.3" width="1.4" height="11"/><rect x="445" y="623.3" width="1.4" height="11"/><rect x="451.1" y="623.3" width="0.9" height="11"/><rect x="452.6" y="623.3" width="0.9" height="11"/><rect x="454.2" y="623.3" width="0.9" height="11"/><rect x="455.7" y="623.3" width="0.9" height="11"/><rect x="456.4" y="612.5" width="0.9" height="21.8"/><rect x="469" y="623.3" width="0.9" height="11"/><rect x="470.9" y="623.3" width="0.9" height="11"/><rect x="472.6" y="623.3" width="1.4" height="11"/><rect x="473.9" y="623.3" width="0.9" height="11"/><rect x="482.1" y="623.3" width="0.9" height="11"/><rect x="484.2" y="601.6" width="0.9" height="32.7"/><rect x="486.1" y="623.3" width="0.9" height="11"/><rect x="487.7" y="623.3" width="0.9" height="11"/><rect x="490.3" y="601.6" width="0.9" height="32.7"/><rect x="491" y="612.5" width="0.9" height="21.8"/><rect x="492.9" y="612.5" width="0.9" height="21.8"/><rect x="494.7" y="612.5" width="0.9" height="21.8"/><rect x="492.9" y="591.1" width="0.9" height="43.2"/><rect x="493.8" y="601.6" width="0.9" height="32.7"/><rect x="495.4" y="612.5" width="0.9" height="21.8"/><rect x="489.8" y="623.3" width="0.9" height="11"/><rect x="491.5" y="623.3" width="0.9" height="11"/><rect x="493.3" y="623.3" width="0.9" height="11"/><rect x="495" y="623.3" width="0.9" height="11"/><rect x="498.2" y="623.3" width="0.9" height="11"/><rect x="499.9" y="623.3" width="0.9" height="11"/><rect x="508.3" y="623.3" width="0.9" height="11"/><rect x="509.5" y="623.3" width="0.9" height="11"/><rect x="516.5" y="623.3" width="0.9" height="11"/><rect x="517.6" y="623.3" width="0.9" height="11"/><rect x="523.5" y="623.3" width="0.9" height="11"/><rect x="530.5" y="623.3" width="0.9" height="11"/><rect x="533.5" y="623.3" width="0.9" height="11"/><rect x="538.6" y="623.3" width="0.9" height="11"/><rect x="540.1" y="623.3" width="0.9" height="11"/><rect x="541.2" y="623.3" width="0.9" height="11"/><rect x="544.5" y="623.3" width="0.9" height="11"/><rect x="552.2" y="579.8" width="0.9" height="54.5"/><rect x="553.4" y="612.5" width="1.4" height="21.8"/><rect x="552.2" y="623.3" width="0.9" height="11"/><rect x="554.5" y="623.3" width="0.9" height="11"/><rect x="555.7" y="612.5" width="0.9" height="21.8"/><rect x="557.8" y="623.3" width="0.9" height="11"/><rect x="560.4" y="612.5" width="0.9" height="21.8"/></g>
<path d="M69.3 634.3 V614.7 M70.6 634.3 V618.5 M72.3 634.3 V621.4 M73.7 634.3 V619.5 M76.1 634.3 V625.1 M77.6 634.3 V618.5 M79 634.3 V605.2 M80.7 634.3 V579 M82.4 634.3 V618.5 M83.7 634.3 V599.1 M85.2 634.3 V611.9 M87.1 634.3 V633.7 M88.5 634.3 V626.1 M89.8 634.3 V621.4 M91.3 634.3 V623.2 M93.2 634.3 V628 M95.1 634.3 V617.6 M97 634.3 V609.6 M98.9 634.3 V629.9 M100.2 634.3 V626.1 M101.8 634.3 V630.8 M104 634.3 V622.3 M106.1 634.3 V621.9 M107.8 634.3 V629.9 M109.3 634.3 V628 M110.9 634.3 V618.5 M112.2 634.3 V605.2 M114.5 634.3 V617.6 M116.6 634.3 V613.8 M118.3 634.3 V613.8 M119.6 634.3 V629.9 M120.7 634.3 V624.2 M123.2 634.3 V590 M125.1 634.3 V600.5 M126.8 634.3 V618.5 M128.9 634.3 V540.1 M130.6 634.3 V610.9 M132.1 634.3 V620.4 M133.6 634.3 V629.9 M135.2 634.3 V627 M137.4 634.3 V626.1 M181.9 634.3 V628.9 M184.2 634.3 V628.9 M190.8 634.3 V627 M193.7 634.3 V579 M195.2 634.3 V599.5 M196.7 634.3 V629.9 M197.8 634.3 V572 M199 634.3 V610.9 M200.3 634.3 V610 M201.8 634.3 V620.4 M203.2 634.3 V629.9 M204.7 634.3 V623.2 M206.6 634.3 V632.7 M210.4 634.3 V615.7 M212.6 634.3 V630.8 M215.7 634.3 V626.1 M217 634.3 V622.3 M219.3 634.3 V618.5 M220.8 634.3 V629.9 M223.3 634.3 V626.1 M225.5 634.3 V631.8 M227.1 634.3 V624.2 M228.4 634.3 V616.6 M230.7 634.3 V612.8 M232.2 634.3 V618.5 M236.4 634.3 V622.3 M238.3 634.3 V620.4 M242.2 634.3 V603.3 M252.7 634.3 V625.3 M253.2 634.3 V626.1 M253.6 634.3 V625.3 M254.1 634.3 V626.1 M254.6 634.3 V625.3 M255.1 634.3 V626.1 M255.5 634.3 V625.3 M256 634.3 V626.1 M258.8 634.3 V626.1 M264.8 634.3 V627.6 M273.8 634.3 V631.6 M274.2 634.3 V632.4 M274.7 634.3 V631.6 M275.2 634.3 V632.4 M275.6 634.3 V631.6 M276.1 634.3 V632.4 M276.6 634.3 V631.6 M277.1 634.3 V632.4 M277.5 634.3 V631.6 M278 634.3 V632.4 M278.5 634.3 V631.6 M279 634.3 V632.4 M279.4 634.3 V631.6 M279.9 634.3 V632.4 M280.4 634.3 V631.6 M280.9 634.3 V632.4 M284 634.3 V630.8 M287.2 634.3 V630.8 M304.3 634.3 V623.8 M304.2 634.3 V623.8 M309.5 634.3 V627 M310.6 634.3 V624.2 M311.8 634.3 V615.7 M313.7 634.3 V624.2 M315.2 634.3 V628 M317.1 634.3 V614.7 M319 634.3 V624.2 M320.5 634.3 V630.1 M321 634.3 V630.8 M321.4 634.3 V630.1 M321.9 634.3 V630.8 M322.4 634.3 V630.1 M322.9 634.3 V630.8 M323.3 634.3 V630.1 M323.8 634.3 V630.8 M324.3 634.3 V630.1 M324.8 634.3 V630.8 M325.2 634.3 V630.1 M325.7 634.3 V630.8 M326.2 634.3 V630.1 M326.7 634.3 V630.8 M327.1 634.3 V630.1 M327.6 634.3 V630.8 M328.1 634.3 V630.1 M328.6 634.3 V630.8 M330.4 634.3 V631.8 M333.8 634.3 V628.8 M334.3 634.3 V629.5 M334.7 634.3 V628.8 M335.2 634.3 V629.5 M335.7 634.3 V628.8 M336.2 634.3 V629.5 M336.6 634.3 V628.8 M337.1 634.3 V629.5 M337.6 634.3 V628.8 M338.1 634.3 V629.5 M340.8 634.3 V627.6 M342.7 634.3 V630.8 M347.4 634.3 V628.8 M347.9 634.3 V629.5 M348.4 634.3 V628.8 M348.9 634.3 V629.5 M349.3 634.3 V628.8 M349.8 634.3 V629.5 M350.3 634.3 V628.8 M350.8 634.3 V629.5 M351.2 634.3 V628.8 M351.7 634.3 V629.5 M352.2 634.3 V628.8 M352.7 634.3 V629.5 M357.5 634.3 V623.2 M359.2 634.3 V625.9 M359.7 634.3 V626.7 M360.2 634.3 V625.9 M360.6 634.3 V626.7 M361.1 634.3 V625.9 M361.6 634.3 V626.7 M362.1 634.3 V625.9 M362.5 634.3 V626.7 M363 634.3 V625.9 M363.5 634.3 V626.7 M364.5 634.3 V624.2 M366.8 634.3 V622.3 M374 634.3 V624.2 M376.9 634.3 V622.7 M378.4 634.3 V629.9 M379.7 634.3 V628.8 M380.2 634.3 V629.5 M380.7 634.3 V628.8 M381.1 634.3 V629.5 M381.6 634.3 V628.8 M382.1 634.3 V629.5 M382.6 634.3 V628.8 M383 634.3 V629.5 M383.5 634.3 V628.8 M384 634.3 V629.5 M389.6 634.3 V625.1 M396.8 634.3 V627.8 M397.3 634.3 V628.6 M397.7 634.3 V627.8 M398.2 634.3 V628.6 M398.7 634.3 V627.8 M399.2 634.3 V628.6 M400.6 634.3 V624.2 M401.9 634.3 V616.6 M404 634.3 V624.2 M405.3 634.3 V620.4 M406.7 634.3 V616.6 M409.1 634.3 V623.2 M411 634.3 V628 M412.4 634.3 V618.5 M413.5 634.3 V610.9 M415.4 634.3 V626.1 M417.1 634.3 V618.5 M418.6 634.3 V626.1 M419.9 634.3 V628 M421.8 634.3 V629.9 M423.4 634.3 V627 M425.3 634.3 V629.9 M426.8 634.3 V618.5 M428.3 634.3 V629.9 M421.2 634.3 V629.8 M421.8 634.3 V630.8 M422.3 634.3 V629.8 M422.9 634.3 V630.8 M423.5 634.3 V629.8 M424.1 634.3 V630.8 M424.7 634.3 V629.8 M425.3 634.3 V630.8 M425.8 634.3 V629.8 M426.4 634.3 V630.8 M427 634.3 V619.1 M428.9 634.3 V629.8 M429.5 634.3 V630.8 M430 634.3 V629.8 M430.6 634.3 V630.8 M431.2 634.3 V629.8 M431.8 634.3 V630.8 M432.4 634.3 V629.8 M433 634.3 V630.8 M433.5 634.3 V629.8 M434.1 634.3 V630.8 M434.7 634.3 V629.8 M435.3 634.3 V630.8 M435.9 634.3 V629.8 M436.5 634.3 V630.8 M437.1 634.3 V629.8 M437.6 634.3 V630.8 M438.2 634.3 V629.8 M438.8 634.3 V630.8 M439.9 634.3 V622.6 M441.5 634.3 V629.8 M442.1 634.3 V630.8 M442.7 634.3 V629.8 M443.2 634.3 V630.8 M443.8 634.3 V629.8 M444.4 634.3 V630.8 M445 634.3 V629.8 M445.6 634.3 V630.8 M446.2 634.3 V629.8 M446.7 634.3 V630.8 M447.3 634.3 V629.8 M447.9 634.3 V630.8 M448.5 634.3 V629.8 M449.1 634.3 V630.8 M449.7 634.3 V629.8 M450.2 634.3 V630.8 M451.5 634.3 V622.6 M452.7 634.3 V628.4" fill="none" stroke="#000" stroke-width="1.3"/>
<clipPath id="ce"><rect x="60" y="530" width="520" height="105.2"/></clipPath>
<path d="M68.4 634.3 L69.3 614.7 L69.9 633.2 L70.6 618.5 L71.4 631.1 L72.3 621.4 L72.9 630.9 L73.7 619.5 L74.4 631.3 L74.8 634.3 L75.4 632.3 L76.1 625.1 L76.9 632.7 L77.6 618.5 L78.2 632.5 L79 605.2 L79.7 628.5 L80.7 579 L81.4 623.3 L82.4 618.5 L83 628.7 L83.7 599.1 L84.5 628.3 L85.2 611.9 L86 631.1 L86.4 634.2 L87.1 633.7 L87.7 634 L88.5 626.1 L89 634.2 L89.8 621.4 L90.6 632.4 L91.3 623.2 L92.1 633.6 L92.5 633.8 L93.2 628 L94 632.8 L94.4 633.7 L95.1 617.6 L95.9 630.5 L96.2 628.7 L97 609.6 L97.8 633 L98.1 633.3 L98.9 629.9 L99.5 632.9 L100.2 626.1 L101 634 L101.8 630.8 L102.5 633.8 L103.3 633.1 L104 622.3 L104.8 631.8 L105.4 632.3 L106.1 621.9 L106.9 634.2 L107.8 629.9 L108.6 634.2 L109.3 628 L110.1 633.6 L110.9 618.5 L111.4 627.1 L112.2 605.2 L112.9 628.6 L113.7 632 L114.5 617.6 L115.2 630.8 L115.8 633.4 L116.6 613.8 L117.3 630.6 L118.3 613.8 L118.8 633.7 L119.6 629.9 L120 633.3 L120.4 633.6 L120.7 624.2 L121.5 633.2 L122.4 623.3 L123.2 590 L124 632.8 L124.3 627 L125.1 600.5 L125.9 632.4 L126.8 618.5 L127.6 632.1 L128.1 633.2 L128.9 540.1 L129.6 622.9 L130.6 610.9 L131.4 628.8 L132.1 620.4 L132.9 632.2 L133.6 629.9 L134.4 633.5 L135.2 627 L135.9 634.1 L136.7 633.5 L137.4 626.1 L138.2 633.4 L138.6 634.3 L143.5 634.3 L144.3 610.9 L146.4 610.9 L147.5 626.5 L148.6 610.9 L149.8 608.6 L151.3 624.6 L152.2 616.2 L154.1 616.2 L155.5 634.3 L163.6 634.3 L164.6 624.2 L165.7 615.7 L166.8 624.2 L167.8 630.8 L168.9 628.9 L170.1 629.3 L171.2 634.3 L173.3 634.3 L174.1 626.1 L174.8 621.4 L175.8 629.9 L176.5 634.3 L177.3 626.1 L178 617.6 L179 629.9 L179.8 634.3 L181.8 634.3 L182.6 630.8 L183.4 628.9 L184.3 631.8 L185.1 634.3 L188.1 634.3 L189.5 634.3 L190.1 633.3 L190.8 627 L191.6 633.8 L192.1 634.3 L192.9 633.7 L193.7 579 L194.4 632.6 L195.2 599.5 L195.9 633.1 L196.7 629.9 L197.1 627.9 L197.5 634.1 L197.8 572 L198.2 630.5 L198.6 626.9 L199 610.9 L199.5 633.5 L200.3 610 L201.1 632.2 L201.8 620.4 L202.4 634.2 L203.2 629.9 L203.9 633.6 L204.7 623.2 L205.4 632.1 L205.8 634.1 L206.6 632.7 L207.3 634 L208.1 634.3 L209.6 632.3 L210.4 615.7 L211.1 632.9 L211.9 634.2 L212.6 630.8 L213.4 633.9 L214.2 634.3 L214.9 633.8 L215.7 626.1 L216.2 631.9 L217 622.3 L217.8 632.2 L218.5 633.3 L219.3 618.5 L220 630.4 L220.8 629.9 L221.6 633.5 L222.5 632.9 L223.3 626.1 L224 632.4 L224.8 634 L225.5 631.8 L226.3 634.1 L227.1 624.2 L227.6 632.9 L228.4 616.6 L229.2 632.1 L229.9 629.4 L230.7 612.8 L231.4 629.4 L232.2 618.5 L232.9 633.1 L234.1 634.3 L235.6 632.1 L236.4 622.3 L237.1 631.3 L237.5 633.3 L238.3 620.4 L239 633.9 L239.8 634.3 L240.7 634.3 L241.5 630.5 L242.2 603.3 L243 626.7 L244 634.3 L251.7 634.3 L252.3 634.3 L252.7 625.7 L253.2 629 L253.6 624.6 L254.1 627 L254.6 624.3 L255.1 626.3 L255.5 623.9 L256 627.4 L256.7 634.3 L258 632.7 L258.8 626.1 L259.5 633 L260.5 634.3 L263.5 634.3 L264.1 632.8 L264.8 627.6 L265.6 634.1 L266.2 634.3 L273 634.3 L273.4 634.3 L273.8 632.4 L274.2 632.9 L274.7 632.4 L275.2 631.5 L275.6 630.3 L276.1 631.3 L276.6 631.3 L277.1 632.3 L277.5 631.5 L278 632.9 L278.5 632.5 L279 631.5 L279.4 632.3 L279.9 633 L280.4 630.8 L280.9 632.1 L282.5 634.3 L283.2 633.9 L284 630.8 L284.8 634 L285.5 634.3 L286.5 633.8 L287.2 630.8 L288 633.9 L288.7 634.3 L302.8 634.3 L303.5 633.6 L304.3 623.8 L305.1 634 L305.8 634.3 L308.7 634.3 L309.5 627 L310 632.2 L310.6 624.2 L311.1 631.6 L311.8 615.7 L312.4 633.5 L313 633.2 L313.7 624.2 L314.3 633.3 L315.2 628 L315.8 633.9 L316.4 633.8 L317.1 614.7 L317.7 630 L318.3 633 L319 624.2 L319.6 633 L320.1 634.3 L320.5 630.6 L321 630.7 L321.4 629.4 L321.9 630.1 L322.4 630 L322.9 629.9 L323.3 629.3 L323.8 631.6 L324.3 628.7 L324.8 630.3 L325.2 630.2 L325.7 630.3 L326.2 629.6 L326.7 630 L327.1 630.6 L327.6 630.3 L328.1 628.7 L328.6 630.3 L329.7 633.7 L330.4 631.8 L331 633.8 L332.3 634.3 L333.4 634.3 L333.8 628.4 L334.3 629.9 L334.7 628 L335.2 631.4 L335.7 629.6 L336.2 629.9 L336.6 629.6 L337.1 631.2 L337.6 628.3 L338 634.3 L339.1 634.3 L340.1 634 L340.8 627.6 L341.5 633.4 L342 633.9 L342.7 630.8 L343.4 634.1 L344.6 634.3 L346.5 634.3 L347.1 634.3 L347.4 629.2 L347.9 629.8 L348.4 628.3 L348.9 629.4 L349.3 629.8 L349.8 631.8 L350.3 629.9 L350.8 631.1 L351.2 628.4 L351.7 631.3 L352.2 627.4 L352.7 630.1 L353.1 634.3 L354.3 634.3 L356 634.3 L356.8 633.9 L357.5 623.2 L358.2 632.6 L358.8 634.3 L359.2 626.9 L359.7 627 L360.2 624.9 L360.6 630.1 L361.1 626.7 L361.6 628.5 L362.1 627 L362.5 629.3 L363 625.9 L363.4 634.3 L363.9 634 L364.5 624.2 L365.2 633 L366.1 632.7 L366.8 622.3 L367.5 633.1 L368.3 634.3 L372.7 634.3 L373.4 631.8 L374 624.2 L374.7 632.5 L375.5 634.3 L376.2 633.7 L376.9 622.7 L377.5 634.2 L378.4 629.9 L379 634.1 L379.7 627.6 L380.2 631.9 L380.7 629.3 L381.1 631 L381.6 628.2 L382.1 630.7 L382.6 628.4 L383 630.9 L383.5 628.6 L384 630.1 L385.4 634.3 L388.2 634.3 L388.9 633.6 L389.6 625.1 L390.2 633.1 L391.1 634.3 L395.8 634.3 L396.4 634.3 L396.8 626.7 L397.3 630.9 L397.7 627.2 L398.2 630.4 L398.7 627.1 L399.2 629.7 L399.9 632.5 L400.6 624.2 L401.2 632.8 L401.9 616.6 L402.6 634.2 L403.3 633.8 L404 624.2 L404.7 633.8 L405.3 620.4 L406 631.4 L406.7 616.6 L407.3 630.7 L408.5 631.9 L409.1 623.2 L409.8 632.5 L410.4 633.4 L411 628 L411.7 633.7 L412.4 618.5 L412.8 632.2 L413.5 610.9 L414.2 630.3 L414.7 633.7 L415.4 626.1 L416.1 632.4 L416.4 633 L417.1 618.5 L417.8 633.8 L418.6 626.1 L419.3 633.7 L419.9 628 L420.6 633.4 L421.2 634 L421.8 629.9 L422.5 634 L423.4 627 L424 632.6 L424.6 634.2 L425.3 629.9 L425.9 634.1 L426.8 618.5 L427.4 633.8 L428.3 629.9 L429 633.6 L429.5 631.1 L430 628.4 L430.6 629.7 L431.2 628.9 L431.8 632 L432.4 628.3 L433 631.6 L433.5 628.6 L434.1 630.4 L434.7 628.8 L435.3 632.4 L435.9 631.1 L436.5 630 L437.1 631 L437.6 630.9 L438.2 630.2 L438.8 630.3 L439.2 634.3 L439.9 622.6 L440.6 631.4 L441 634.3 L441.5 629.6 L442.1 630.7 L442.7 628.9 L443.2 630.8 L443.8 630.6 L444.4 630.2 L445 629.3 L445.6 632.3 L446.2 630.2 L446.7 631.8 L447.3 630.5 L447.9 631.8 L448.5 630.1 L449.1 630.4 L449.7 629.8 L450.2 631 L450.8 633.9 L451.5 622.6 L452 633.5 L452.7 628.4 L453.4 633.6" fill="none" stroke="#000" stroke-width="1.7" stroke-linejoin="miter" clip-path="url(#ce)"/>
<path d="M79.5 765 L79.5 745.4 L80.9 737.8 L83.2 716.9 L85.6 686.6 L86.9 720.7 L88.1 739.7 L91.3 742.6 L95.1 735 L98.5 728.3 L101.8 735.9 L105.5 741.2 L109.3 742.6 L113.1 743.5 L117.9 745.4 L121.1 745 L125.5 738.2 L130.6 744.5 L133.1 739.3 L135.3 737.8 L137.8 741.6 L140.7 742 L145.4 742.7 L153 743.5 L160.6 743.7 L169.1 743.3 L175.8 742.6 L178.6 736.9 L181.5 726.4 L183.4 708.4 L185.3 697 L187.5 700.8 L190.4 715 L192.9 725.5 L195.6 709.3 L197.5 686.6 L199 660.9 L200.3 688.5 L201.4 711.2 L204.7 724.5 L208.5 735 L213.2 738.8 L218 740.7 L222.7 742 L227.4 745.4 L231.2 747.7 L235 746.9 L238.8 749.2 L242.6 750.5 L246.4 751.5 L251.2 752.4 L255.9 753 L259.7 753.9 L262.6 753.6 L267.3 751.7 L273 751.1 L278.7 751.7 L284.4 753 L287.8 751.7 L292 753.9 L294.8 754.9 L298.6 756.4 L303.4 754.5 L306.2 755.8 L308.9 754.6 L311.2 752.3 L313.1 748.8 L314.5 747.6 L315.9 748.3 L316.8 739.4 L318.2 728.9 L319.6 741.8 L323.4 742.2 L328 741.8 L333.9 741.3 L338.5 742.2 L343.2 746 L347.9 749.9 L352.6 752.3 L357.2 750.4 L361.9 747.6 L366.6 747.1 L370.1 749.9 L373.6 748.8 L377.1 749.5 L380.6 746.9 L384.1 744.1 L387.6 742.5 L392.3 741.8 L396.9 738.9 L400.4 733.6 L403.2 725.4 L405.1 704.4 L406.7 675.9 L408.4 706.7 L410.2 734.7 L414.5 733.6 L419.1 737.1 L423.8 741.3 L427.3 742.2 L432 739.4 L435.5 740.1 L440.1 737.8 L444.8 736.6 L447.6 734.7 L450 726.6 L451.8 710.9 L451.8 765Z" fill="#d19a2f"/>
<path d="M76.1 765 L76.1 759.6 L79 757.7 L81.3 754.9 L82.4 752 L83.2 753 L84.7 748.2 L86.6 743.5 L88.1 742 L90 743.5 L92.3 743.1 L95.1 744.5 L97 743.5 L98.9 746.4 L100.8 749.2 L102.7 748.2 L104.6 750.1 L106.5 751.1 L108.4 749.2 L110.3 748.2 L113.1 747.7 L116 745.4 L118.5 743.9 L120.4 747.3 L122.6 745.8 L125.5 744.5 L127.9 750.1 L130.6 747.3 L133.1 746 L135 747.3 L137.8 752 L140.7 754.9 L144.5 756.8 L149.2 757.4 L153 756.8 L156.2 754.5 L159.6 756.8 L162.5 758.1 L166.3 757.2 L170.1 756.8 L173.9 756.8 L178.6 757.4 L183.4 759.1 L183.8 759.3 L188.5 759.6 L193.3 759.1 L197.1 757.7 L199 754.9 L200.9 749.2 L202.8 745.8 L205.6 746.7 L208.5 745.4 L211.3 746.4 L215.1 744.8 L218 747.3 L220.8 744.5 L223.6 743.5 L226.5 745.4 L229.3 747.3 L233.1 747.7 L236.9 749.2 L240.7 748.2 L242.6 750.1 L245.5 747.9 L248.3 751.1 L250.6 749.2 L254 751.1 L257.8 753.9 L261.6 754.9 L265.4 756.2 L271.1 757.5 L276.8 757.2 L282.5 754.9 L287.8 751.5 L292 753.9 L295.8 755.8 L299.6 757.2 L303 758.1 L306.2 756.4 L307 755.8 L311.7 752.3 L315.2 748.8 L319.9 750.6 L326.9 753.4 L334.6 747.1 L334.6 765Z" fill="#ffffff"/>
<path d="M76.1 759.6 L79 757.7 L81.3 754.9 L82.4 752 L83.2 753 L84.7 748.2 L86.6 743.5 L88.1 742 L90 743.5 L92.3 743.1 L95.1 744.5 L97 743.5 L98.9 746.4 L100.8 749.2 L102.7 748.2 L104.6 750.1 L106.5 751.1 L108.4 749.2 L110.3 748.2 L113.1 747.7 L116 745.4 L118.5 743.9 L120.4 747.3 L122.6 745.8 L125.5 744.5 L127.9 750.1 L130.6 747.3 L133.1 746 L135 747.3 L137.8 752 L140.7 754.9 L144.5 756.8 L149.2 757.4 L153 756.8 L156.2 754.5 L159.6 756.8 L162.5 758.1 L166.3 757.2 L170.1 756.8 L173.9 756.8 L178.6 757.4 L183.4 759.1 L183.8 759.3 L188.5 759.6 L193.3 759.1 L197.1 757.7 L199 754.9 L200.9 749.2 L202.8 745.8 L205.6 746.7 L208.5 745.4 L211.3 746.4 L215.1 744.8 L218 747.3 L220.8 744.5 L223.6 743.5 L226.5 745.4 L229.3 747.3 L233.1 747.7 L236.9 749.2 L240.7 748.2 L242.6 750.1 L245.5 747.9 L248.3 751.1 L250.6 749.2 L254 751.1 L257.8 753.9 L261.6 754.9 L265.4 756.2 L271.1 757.5 L276.8 757.2 L282.5 754.9 L287.8 751.5 L292 753.9 L295.8 755.8 L299.6 757.2 L303 758.1 L306.2 756.4 L307 755.8 L311.7 752.3 L315.2 748.8 L319.9 750.6 L326.9 753.4 L334.6 747.1" fill="none" stroke="#000" stroke-width="1.1" stroke-linejoin="round"/>
<path d="M79.5 745.4 L80.9 737.8 L83.2 716.9 L85.6 686.6 L86.9 720.7 L88.1 739.7 L91.3 742.6 L95.1 735 L98.5 728.3 L101.8 735.9 L105.5 741.2 L109.3 742.6 L113.1 743.5 L117.9 745.4 L121.1 745 L125.5 738.2 L130.6 744.5 L133.1 739.3 L135.3 737.8 L137.8 741.6 L140.7 742 L145.4 742.7 L153 743.5 L160.6 743.7 L169.1 743.3 L175.8 742.6 L178.6 736.9 L181.5 726.4 L183.4 708.4 L185.3 697 L187.5 700.8 L190.4 715 L192.9 725.5 L195.6 709.3 L197.5 686.6 L199 660.9 L200.3 688.5 L201.4 711.2 L204.7 724.5 L208.5 735 L213.2 738.8 L218 740.7 L222.7 742 L227.4 745.4 L231.2 747.7 L235 746.9 L238.8 749.2 L242.6 750.5 L246.4 751.5 L251.2 752.4 L255.9 753 L259.7 753.9 L262.6 753.6 L267.3 751.7 L273 751.1 L278.7 751.7 L284.4 753 L287.8 751.7 L292 753.9 L294.8 754.9 L298.6 756.4 L303.4 754.5 L306.2 755.8 L308.9 754.6 L311.2 752.3 L313.1 748.8 L314.5 747.6 L315.9 748.3 L316.8 739.4 L318.2 728.9 L319.6 741.8 L323.4 742.2 L328 741.8 L333.9 741.3 L338.5 742.2 L343.2 746 L347.9 749.9 L352.6 752.3 L357.2 750.4 L361.9 747.6 L366.6 747.1 L370.1 749.9 L373.6 748.8 L377.1 749.5 L380.6 746.9 L384.1 744.1 L387.6 742.5 L392.3 741.8 L396.9 738.9 L400.4 733.6 L403.2 725.4 L405.1 704.4 L406.7 675.9 L408.4 706.7 L410.2 734.7 L414.5 733.6 L419.1 737.1 L423.8 741.3 L427.3 742.2 L432 739.4 L435.5 740.1 L440.1 737.8 L444.8 736.6 L447.6 734.7 L450 726.6 L451.8 710.9" fill="none" stroke="#70702f" stroke-width="1.5" stroke-linejoin="round"/>
<path d="M79.5 743.4 V747.4 M80.9 735.8 V739.8 M83.2 714.9 V718.9 M85.6 684.6 V688.6 M86.9 718.7 V722.7 M88.1 737.7 V741.7 M91.3 740.6 V744.6 M95.1 733 V737 M98.5 726.3 V730.3 M101.8 733.9 V737.9 M105.5 739.2 V743.2 M109.3 740.6 V744.6 M113.1 741.5 V745.5 M117.9 743.4 V747.4 M121.1 743 V747 M125.5 736.2 V740.2 M130.6 742.5 V746.5 M133.1 737.3 V741.3 M135.3 735.8 V739.8 M137.8 739.6 V743.6 M140.7 740 V744 M145.4 740.7 V744.7 M153 741.5 V745.5 M160.6 741.7 V745.7 M169.1 741.3 V745.3 M175.8 740.6 V744.6 M178.6 734.9 V738.9 M181.5 724.4 V728.4 M183.4 706.4 V710.4 M185.3 695 V699 M187.5 698.8 V702.8 M190.4 713 V717 M192.9 723.5 V727.5 M195.6 707.3 V711.3 M197.5 684.6 V688.6 M199 658.9 V662.9 M200.3 686.5 V690.5 M201.4 709.2 V713.2 M204.7 722.5 V726.5 M208.5 733 V737 M213.2 736.8 V740.8 M218 738.7 V742.7 M222.7 740 V744 M227.4 743.4 V747.4 M231.2 745.7 V749.7 M235 744.9 V748.9 M238.8 747.2 V751.2 M242.6 748.5 V752.5 M246.4 749.5 V753.5 M251.2 750.4 V754.4 M255.9 751 V755 M259.7 751.9 V755.9 M262.6 751.6 V755.6 M267.3 749.7 V753.7 M273 749.1 V753.1 M278.7 749.7 V753.7 M284.4 751 V755 M287.8 749.7 V753.7 M292 751.9 V755.9 M294.8 752.9 V756.9 M298.6 754.4 V758.4 M303.4 752.5 V756.5 M306.2 753.8 V757.8 M308.9 752.6 V756.6 M311.2 750.3 V754.3 M313.1 746.8 V750.8 M314.5 745.6 V749.6 M315.9 746.3 V750.3 M316.8 737.4 V741.4 M318.2 726.9 V730.9 M319.6 739.8 V743.8 M323.4 740.2 V744.2 M328 739.8 V743.8 M333.9 739.3 V743.3 M338.5 740.2 V744.2 M343.2 744 V748 M347.9 747.9 V751.9 M352.6 750.3 V754.3 M357.2 748.4 V752.4 M361.9 745.6 V749.6 M366.6 745.1 V749.1 M370.1 747.9 V751.9 M373.6 746.8 V750.8 M377.1 747.5 V751.5 M380.6 744.9 V748.9 M384.1 742.1 V746.1 M387.6 740.5 V744.5 M392.3 739.8 V743.8 M396.9 736.9 V740.9 M400.4 731.6 V735.6 M403.2 723.4 V727.4 M405.1 702.4 V706.4 M406.7 673.9 V677.9 M408.4 704.7 V708.7 M410.2 732.7 V736.7 M414.5 731.6 V735.6 M419.1 735.1 V739.1 M423.8 739.3 V743.3 M427.3 740.2 V744.2 M432 737.4 V741.4 M435.5 738.1 V742.1 M440.1 735.8 V739.8 M444.8 734.6 V738.6 M447.6 732.7 V736.7 M450 724.6 V728.6 M451.8 708.9 V712.9 M318 728.3 V732.7 M320.6 739.7 V744.1 M323.2 740 V744.4 M325.8 739.8 V744.2 M328.4 739.5 V743.9 M331 739.3 V743.7 M333.6 739.1 V743.5 M336.2 739.6 V744 M338.8 740.2 V744.6 M341.4 742.3 V746.7 M344 744.4 V748.8 M346.6 746.6 V751 M349.2 748.4 V752.8 M351.8 749.7 V754.1 M354.4 749.3 V753.7 M357 748.3 V752.7 M359.6 746.8 V751.2 M362.2 745.4 V749.8 M364.8 745.1 V749.5 M367.4 745.6 V750 M370 747.7 V752.1 M372.6 746.9 V751.3 M375.2 746.9 V751.3 M377.8 746.7 V751.1 M380.4 744.8 V749.2 M383 742.8 V747.2 M385.6 741.2 V745.6 M388.2 740.2 V744.6 M390.8 739.8 V744.2 M393.4 738.9 V743.3 M396 737.3 V741.7 M398.6 734.2 V738.6 M401.2 729.2 V733.6 M403.8 716.9 V721.3 M406.4 679.7 V684.1 M409 713.8 V718.2 M411.6 732.2 V736.6 M414.2 731.4 V735.8 M416.8 733.1 V737.5 M419.4 735.1 V739.5 M422 737.5 V741.9 M424.6 739.3 V743.7 M427.2 740 V744.4 M429.8 738.5 V742.9 M432.4 737.3 V741.7 M435 737.8 V742.2 M437.6 736.9 V741.3 M440.2 735.6 V740 M442.8 734.9 V739.3 M445.4 734 V738.4 M448 731.2 V735.6 M450.6 719 V723.4" fill="none" stroke="#70702f" stroke-width="0.8"/>
<path d="M68.3 20.2 H566.4 M68.3 20.2 v-6 M78.3 20.2 v-3.8 M88.2 20.2 v-3.8 M98.2 20.2 v-3.8 M108.1 20.2 v-3.8 M118.1 20.2 v-6 M128.1 20.2 v-3.8 M138 20.2 v-3.8 M148 20.2 v-3.8 M158 20.2 v-3.8 M167.9 20.2 v-6 M177.9 20.2 v-3.8 M187.8 20.2 v-3.8 M197.8 20.2 v-3.8 M207.8 20.2 v-3.8 M217.7 20.2 v-6 M227.7 20.2 v-3.8 M237.7 20.2 v-3.8 M247.6 20.2 v-3.8 M257.6 20.2 v-3.8 M267.5 20.2 v-6 M277.5 20.2 v-3.8 M287.5 20.2 v-3.8 M297.4 20.2 v-3.8 M307.4 20.2 v-3.8 M317.3 20.2 v-6 M327.3 20.2 v-3.8 M337.3 20.2 v-3.8 M347.2 20.2 v-3.8 M357.2 20.2 v-3.8 M367.2 20.2 v-6 M377.1 20.2 v-3.8 M387.1 20.2 v-3.8 M397 20.2 v-3.8 M407 20.2 v-3.8 M417 20.2 v-6 M426.9 20.2 v-3.8 M436.9 20.2 v-3.8 M446.9 20.2 v-3.8 M456.8 20.2 v-3.8 M466.8 20.2 v-6 M476.7 20.2 v-3.8 M486.7 20.2 v-3.8 M496.7 20.2 v-3.8 M506.6 20.2 v-3.8 M516.6 20.2 v-6 M526.6 20.2 v-3.8 M536.5 20.2 v-3.8 M546.5 20.2 v-3.8 M556.4 20.2 v-3.8 M566.4 20.2 v-6 M68.3 765.1 H566.4 M68.3 765.1 v6 M78.3 765.1 v4 M88.2 765.1 v4 M98.2 765.1 v4 M108.1 765.1 v4 M118.1 765.1 v6 M128.1 765.1 v4 M138 765.1 v4 M148 765.1 v4 M158 765.1 v4 M167.9 765.1 v6 M177.9 765.1 v4 M187.8 765.1 v4 M197.8 765.1 v4 M207.8 765.1 v4 M217.7 765.1 v6 M227.7 765.1 v4 M237.7 765.1 v4 M247.6 765.1 v4 M257.6 765.1 v4 M267.5 765.1 v6 M277.5 765.1 v4 M287.5 765.1 v4 M297.4 765.1 v4 M307.4 765.1 v4 M317.3 765.1 v6 M327.3 765.1 v4 M337.3 765.1 v4 M347.2 765.1 v4 M357.2 765.1 v4 M367.2 765.1 v6 M377.1 765.1 v4 M387.1 765.1 v4 M397 765.1 v4 M407 765.1 v4 M417 765.1 v6 M426.9 765.1 v4 M436.9 765.1 v4 M446.9 765.1 v4 M456.8 765.1 v4 M466.8 765.1 v6 M476.7 765.1 v4 M486.7 765.1 v4 M496.7 765.1 v4 M506.6 765.1 v4 M516.6 765.1 v6 M526.6 765.1 v4 M536.5 765.1 v4 M546.5 765.1 v4 M556.4 765.1 v4 M566.4 765.1 v6 M68.5 170.3 V46.6 M68.5 149.7 h-3.2 M68.5 108.5 h-3.2 M68.5 67.2 h-3.2 M68.5 170.3 h-6 M68.5 129.1 h-6 M68.5 87.8 h-6 M68.5 46.6 h-6 M566.5 160.2 V73.3 M566.5 87.8 h3.2 M566.5 116.7 h3.2 M566.5 145.7 h3.2 M566.5 73.3 h6 M566.5 102.3 h6 M566.5 131.2 h6 M566.5 160.2 h6 M68.5 300.3 V213.1 M68.5 289.4 h-3.2 M68.5 267.6 h-3.2 M68.5 245.8 h-3.2 M68.5 224 h-3.2 M68.5 300.3 h-6 M68.5 278.5 h-6 M68.5 256.7 h-6 M68.5 234.9 h-6 M68.5 213.1 h-6 M566.5 426.7 V339.8 M566.5 415.8 h3.2 M566.5 394.1 h3.2 M566.5 372.4 h3.2 M566.5 350.7 h3.2 M566.5 426.7 h6 M566.5 405 h6 M566.5 383.2 h6 M566.5 361.5 h6 M566.5 339.8 h6 M68.5 520.4 V433.1 M68.5 507.9 h-3.2 M68.5 483 h-3.2 M68.5 458 h-3.2 M68.5 433.1 h-3.2 M68.5 520.4 h-6 M68.5 495.5 h-6 M68.5 470.5 h-6 M68.5 445.6 h-6 M68.5 634.3 V547.4 M68.5 623.4 h-3.2 M68.5 601.7 h-3.2 M68.5 580 h-3.2 M68.5 558.3 h-3.2 M68.5 634.3 h-6 M68.5 612.6 h-6 M68.5 590.9 h-6 M68.5 569.1 h-6 M68.5 547.4 h-6 M571.4 634.3 V535.1 M571.4 621.9 h3.2 M571.4 597.1 h3.2 M571.4 572.3 h3.2 M571.4 547.5 h3.2 M571.4 634.3 h6 M571.4 609.5 h6 M571.4 584.7 h6 M571.4 559.9 h6 M571.4 535.1 h6 M68.5 765 V665.2 M68.5 752.5 h-3.2 M68.5 727.6 h-3.2 M68.5 702.6 h-3.2 M68.5 677.7 h-3.2 M68.5 765 h-6 M68.5 740.1 h-6 M68.5 715.1 h-6 M68.5 690.2 h-6 M68.5 665.2 h-6" fill="none" stroke="#3c3c3c" stroke-width="0.9"/>
<text x="68.3" y="7.7" font-size="10.4" text-anchor="middle" font-weight="normal" textLength="6.3" lengthAdjust="spacingAndGlyphs">0</text>
<text x="68.3" y="786.8" font-size="10.4" text-anchor="middle" font-weight="normal" textLength="6.3" lengthAdjust="spacingAndGlyphs">0</text>
<text x="118.1" y="7.7" font-size="10.4" text-anchor="middle" font-weight="normal" textLength="12.6" lengthAdjust="spacingAndGlyphs">50</text>
<text x="118.1" y="786.8" font-size="10.4" text-anchor="middle" font-weight="normal" textLength="12.6" lengthAdjust="spacingAndGlyphs">50</text>
<text x="167.9" y="7.7" font-size="10.4" text-anchor="middle" font-weight="normal" textLength="18.9" lengthAdjust="spacingAndGlyphs">100</text>
<text x="167.9" y="786.8" font-size="10.4" text-anchor="middle" font-weight="normal" textLength="18.9" lengthAdjust="spacingAndGlyphs">100</text>
<text x="217.7" y="7.7" font-size="10.4" text-anchor="middle" font-weight="normal" textLength="18.9" lengthAdjust="spacingAndGlyphs">150</text>
<text x="217.7" y="786.8" font-size="10.4" text-anchor="middle" font-weight="normal" textLength="18.9" lengthAdjust="spacingAndGlyphs">150</text>
<text x="267.5" y="7.7" font-size="10.4" text-anchor="middle" font-weight="normal" textLength="18.9" lengthAdjust="spacingAndGlyphs">200</text>
<text x="267.5" y="786.8" font-size="10.4" text-anchor="middle" font-weight="normal" textLength="18.9" lengthAdjust="spacingAndGlyphs">200</text>
<text x="317.3" y="7.7" font-size="10.4" text-anchor="middle" font-weight="normal" textLength="18.9" lengthAdjust="spacingAndGlyphs">250</text>
<text x="317.3" y="786.8" font-size="10.4" text-anchor="middle" font-weight="normal" textLength="18.9" lengthAdjust="spacingAndGlyphs">250</text>
<text x="367.2" y="7.7" font-size="10.4" text-anchor="middle" font-weight="normal" textLength="18.9" lengthAdjust="spacingAndGlyphs">300</text>
<text x="367.2" y="786.8" font-size="10.4" text-anchor="middle" font-weight="normal" textLength="18.9" lengthAdjust="spacingAndGlyphs">300</text>
<text x="417" y="7.7" font-size="10.4" text-anchor="middle" font-weight="normal" textLength="18.9" lengthAdjust="spacingAndGlyphs">350</text>
<text x="417" y="786.8" font-size="10.4" text-anchor="middle" font-weight="normal" textLength="18.9" lengthAdjust="spacingAndGlyphs">350</text>
<text x="466.8" y="7.7" font-size="10.4" text-anchor="middle" font-weight="normal" textLength="18.9" lengthAdjust="spacingAndGlyphs">400</text>
<text x="466.8" y="786.8" font-size="10.4" text-anchor="middle" font-weight="normal" textLength="18.9" lengthAdjust="spacingAndGlyphs">400</text>
<text x="516.6" y="7.7" font-size="10.4" text-anchor="middle" font-weight="normal" textLength="18.9" lengthAdjust="spacingAndGlyphs">450</text>
<text x="516.6" y="786.8" font-size="10.4" text-anchor="middle" font-weight="normal" textLength="18.9" lengthAdjust="spacingAndGlyphs">450</text>
<text x="566.4" y="7.7" font-size="10.4" text-anchor="middle" font-weight="normal" textLength="18.9" lengthAdjust="spacingAndGlyphs">500</text>
<text x="566.4" y="786.8" font-size="10.4" text-anchor="middle" font-weight="normal" textLength="18.9" lengthAdjust="spacingAndGlyphs">500</text>
<text x="318" y="807" font-size="12" text-anchor="middle" font-weight="normal">Age (ka BP)</text>
<text x="55.6" y="174.3" font-size="10.4" text-anchor="end" font-weight="normal" textLength="6.3" lengthAdjust="spacingAndGlyphs">0</text>
<text x="55.6" y="133.1" font-size="10.4" text-anchor="end" font-weight="normal" textLength="12.6" lengthAdjust="spacingAndGlyphs">10</text>
<text x="55.6" y="91.8" font-size="10.4" text-anchor="end" font-weight="normal" textLength="12.6" lengthAdjust="spacingAndGlyphs">20</text>
<text x="55.6" y="50.6" font-size="10.4" text-anchor="end" font-weight="normal" textLength="12.6" lengthAdjust="spacingAndGlyphs">30</text>
<text x="580" y="77.3" font-size="10.4" text-anchor="start" font-weight="normal" textLength="25.5" lengthAdjust="spacingAndGlyphs">−380</text>
<text x="580" y="106.3" font-size="10.4" text-anchor="start" font-weight="normal" textLength="25.5" lengthAdjust="spacingAndGlyphs">−400</text>
<text x="580" y="135.2" font-size="10.4" text-anchor="start" font-weight="normal" textLength="25.5" lengthAdjust="spacingAndGlyphs">−420</text>
<text x="580" y="164.2" font-size="10.4" text-anchor="start" font-weight="normal" textLength="25.5" lengthAdjust="spacingAndGlyphs">−440</text>
<text x="55.6" y="304.3" font-size="10.4" text-anchor="end" font-weight="normal" textLength="6.3" lengthAdjust="spacingAndGlyphs">0</text>
<text x="55.6" y="282.5" font-size="10.4" text-anchor="end" font-weight="normal" textLength="12.6" lengthAdjust="spacingAndGlyphs">10</text>
<text x="55.6" y="260.7" font-size="10.4" text-anchor="end" font-weight="normal" textLength="12.6" lengthAdjust="spacingAndGlyphs">20</text>
<text x="55.6" y="238.9" font-size="10.4" text-anchor="end" font-weight="normal" textLength="12.6" lengthAdjust="spacingAndGlyphs">30</text>
<text x="55.6" y="217.1" font-size="10.4" text-anchor="end" font-weight="normal" textLength="12.6" lengthAdjust="spacingAndGlyphs">40</text>
<text x="579.5" y="430.7" font-size="10.4" text-anchor="start" font-weight="normal" textLength="6.3" lengthAdjust="spacingAndGlyphs">5</text>
<text x="579.5" y="409" font-size="10.4" text-anchor="start" font-weight="normal" textLength="12.6" lengthAdjust="spacingAndGlyphs">10</text>
<text x="579.5" y="387.2" font-size="10.4" text-anchor="start" font-weight="normal" textLength="12.6" lengthAdjust="spacingAndGlyphs">15</text>
<text x="579.5" y="365.5" font-size="10.4" text-anchor="start" font-weight="normal" textLength="12.6" lengthAdjust="spacingAndGlyphs">20</text>
<text x="579.5" y="343.8" font-size="10.4" text-anchor="start" font-weight="normal" textLength="12.6" lengthAdjust="spacingAndGlyphs">25</text>
<text x="55.6" y="524.4" font-size="10.4" text-anchor="end" font-weight="normal" textLength="15.8" lengthAdjust="spacingAndGlyphs">0.1</text>
<text x="55.6" y="499.5" font-size="10.4" text-anchor="end" font-weight="normal" textLength="15.8" lengthAdjust="spacingAndGlyphs">0.3</text>
<text x="55.6" y="474.5" font-size="10.4" text-anchor="end" font-weight="normal" textLength="15.8" lengthAdjust="spacingAndGlyphs">0.5</text>
<text x="55.6" y="449.6" font-size="10.4" text-anchor="end" font-weight="normal" textLength="15.8" lengthAdjust="spacingAndGlyphs">0.7</text>
<text x="55.6" y="638.3" font-size="10.4" text-anchor="end" font-weight="normal" textLength="6.3" lengthAdjust="spacingAndGlyphs">0</text>
<text x="55.6" y="616.6" font-size="10.4" text-anchor="end" font-weight="normal" textLength="15.8" lengthAdjust="spacingAndGlyphs">0.2</text>
<text x="55.6" y="594.9" font-size="10.4" text-anchor="end" font-weight="normal" textLength="15.8" lengthAdjust="spacingAndGlyphs">0.4</text>
<text x="55.6" y="573.1" font-size="10.4" text-anchor="end" font-weight="normal" textLength="15.8" lengthAdjust="spacingAndGlyphs">0.6</text>
<text x="55.6" y="551.4" font-size="10.4" text-anchor="end" font-weight="normal" textLength="15.8" lengthAdjust="spacingAndGlyphs">0.8</text>
<text x="584.5" y="638.3" font-size="10.4" text-anchor="start" font-weight="normal" textLength="6.3" lengthAdjust="spacingAndGlyphs">0</text>
<text x="584.5" y="613.5" font-size="10.4" text-anchor="start" font-weight="normal" textLength="15.8" lengthAdjust="spacingAndGlyphs">0.4</text>
<text x="584.5" y="588.7" font-size="10.4" text-anchor="start" font-weight="normal" textLength="15.8" lengthAdjust="spacingAndGlyphs">0.8</text>
<text x="584.5" y="563.9" font-size="10.4" text-anchor="start" font-weight="normal" textLength="15.8" lengthAdjust="spacingAndGlyphs">1.2</text>
<text x="584.5" y="539.1" font-size="10.4" text-anchor="start" font-weight="normal" textLength="15.8" lengthAdjust="spacingAndGlyphs">1.6</text>
<text x="55.6" y="769" font-size="10.4" text-anchor="end" font-weight="normal" textLength="6.3" lengthAdjust="spacingAndGlyphs">0</text>
<text x="55.6" y="744.1" font-size="10.4" text-anchor="end" font-weight="normal" textLength="6.3" lengthAdjust="spacingAndGlyphs">2</text>
<text x="55.6" y="719.1" font-size="10.4" text-anchor="end" font-weight="normal" textLength="6.3" lengthAdjust="spacingAndGlyphs">4</text>
<text x="55.6" y="694.2" font-size="10.4" text-anchor="end" font-weight="normal" textLength="6.3" lengthAdjust="spacingAndGlyphs">6</text>
<text x="55.6" y="669.2" font-size="10.4" text-anchor="end" font-weight="normal" textLength="6.3" lengthAdjust="spacingAndGlyphs">8</text>
<text x="-0.3" y="47.3" font-size="17" text-anchor="start" font-weight="bold" stroke="#000" stroke-width="0.5" fill="#000">a</text>
<text x="-0.3" y="213.3" font-size="17" text-anchor="start" font-weight="bold" stroke="#000" stroke-width="0.5" fill="#000">b</text>
<text x="-0.3" y="339.6" font-size="17" text-anchor="start" font-weight="bold" stroke="#000" stroke-width="0.5" fill="#000">c</text>
<text x="-0.3" y="437.8" font-size="17" text-anchor="start" font-weight="bold" stroke="#000" stroke-width="0.5" fill="#000">d</text>
<text x="-0.3" y="547.5" font-size="17" text-anchor="start" font-weight="bold" stroke="#000" stroke-width="0.5" fill="#000">e</text>
<text x="-0.3" y="667" font-size="17" text-anchor="start" font-weight="bold" stroke="#000" stroke-width="0.5" fill="#000">f</text>
<text x="112.4" y="44" font-size="12" text-anchor="middle" font-weight="normal">MIS2–4</text>
<text x="231" y="44" font-size="12" text-anchor="middle" font-weight="normal">MIS6</text>
<text x="341.5" y="44" font-size="12" text-anchor="middle" font-weight="normal">MIS8</text>
<text x="425.8" y="44" font-size="12" text-anchor="middle" font-weight="normal">MIS10</text>
<text x="519.5" y="44" font-size="12" text-anchor="middle" font-weight="normal">MIS12</text>
<text transform="translate(15.3 108.5) rotate(-90) scale(1.045 1)" font-size="12" text-anchor="middle" font-weight="normal">EDC dust flux</text>
<text transform="translate(30.4 110) rotate(-90) scale(1.075 1)" font-size="12" text-anchor="middle" font-weight="normal">(mg m<tspan font-size="8.2" dy="-4.2">−2</tspan><tspan dy="4.2" font-size="0.1">&#160;</tspan><tspan>&#160;ka</tspan><tspan font-size="8.2" dy="-4.2">−1</tspan><tspan dy="4.2" font-size="0.1">&#160;</tspan><tspan>)</tspan></text>
<text transform="translate(30.4 256.3) rotate(-90) scale(0.965 1)" font-size="12" text-anchor="middle" font-weight="normal">WSI (%)</text>
<text transform="translate(11.1 476.7) rotate(-90) scale(1.11 1)" font-size="12" text-anchor="middle" font-weight="normal">Lithic flux</text>
<text transform="translate(26.4 476.3) rotate(-90) scale(1.044 1)" font-size="12" text-anchor="middle" font-weight="normal">(g cm<tspan font-size="8.2" dy="-4.2">−2</tspan><tspan dy="4.2" font-size="0.1">&#160;</tspan><tspan>&#160;ka</tspan><tspan font-size="8.2" dy="-4.2">−1</tspan><tspan dy="4.2" font-size="0.1">&#160;</tspan><tspan>)</tspan></text>
<text transform="translate(11.4 589.6) rotate(-90) scale(0.95 1)" font-size="12" text-anchor="middle" font-weight="normal">IRD</text>
<text transform="translate(26.4 592.6) rotate(-90) scale(1.085 1)" font-size="12" text-anchor="middle" font-weight="normal">(counts cm<tspan font-size="8.2" dy="-4.2">−3</tspan><tspan dy="4.2" font-size="0.1">&#160;</tspan><tspan>)</tspan></text>
<text transform="translate(22.2 715.8) rotate(-90) scale(1.09 1)" font-size="12" text-anchor="middle" font-weight="normal"><tspan font-size="8.2" dy="-4.2">232</tspan><tspan dy="4.2">Th flux</tspan></text>
<text transform="translate(35.6 715.9) rotate(-90) scale(1.045 1)" font-size="12" text-anchor="middle" font-weight="normal">(g cm<tspan font-size="8.2" dy="-4.2">−2</tspan><tspan dy="4.2" font-size="0.1">&#160;</tspan><tspan>&#160;ka</tspan><tspan font-size="8.2" dy="-4.2">−1</tspan><tspan dy="4.2" font-size="0.1">&#160;</tspan><tspan>)</tspan></text>
<text transform="translate(621.9 117.4) rotate(90) scale(1.022 1)" font-size="12" text-anchor="middle" font-weight="normal">EDC δD<tspan font-size="8.2" dy="3">ice</tspan></text>
<text transform="translate(618.9 383.7) rotate(90) scale(1.048 1)" font-size="12" text-anchor="middle" font-weight="normal">Fe flux</text>
<text transform="translate(604.1 383.9) rotate(90) scale(1.042 1)" font-size="12" text-anchor="middle" font-weight="normal">(mg cm<tspan font-size="8.2" dy="-4.2">−2</tspan><tspan dy="4.2" font-size="0.1">&#160;</tspan><tspan>&#160;ka</tspan><tspan font-size="8.2" dy="-4.2">−1</tspan><tspan dy="4.2" font-size="0.1">&#160;</tspan><tspan>)</tspan></text>
<text transform="translate(628.3 585.1) rotate(90) scale(1.024 1)" font-size="12" text-anchor="middle" font-weight="normal">IRD flux</text>
<text transform="translate(613.5 585.2) rotate(90) scale(1.036 1)" font-size="12" text-anchor="middle" font-weight="normal">(grains cm<tspan font-size="8.2" dy="-4.2">−2</tspan><tspan dy="4.2" font-size="0.1">&#160;</tspan><tspan>&#160;ka</tspan><tspan font-size="8.2" dy="-4.2">−1</tspan><tspan dy="4.2" font-size="0.1">&#160;</tspan><tspan>)</tspan></text>
<text transform="translate(674.6 272.8) rotate(90) scale(1.04 1)" font-size="12" text-anchor="middle" font-weight="normal">Sea ice</text>
<text transform="translate(675.4 531.9) rotate(90) scale(1.043 1)" font-size="12" text-anchor="middle" font-weight="normal">Fluxes</text>
<text transform="translate(219.5 761.5) scale(1.03 1)" font-size="12" text-anchor="middle" font-weight="normal">Dust</text>
<text transform="translate(416 762) scale(1.045 1)" font-size="12" text-anchor="middle" font-weight="normal">PS58/270-5</text>
<path d="M656.1 237.9 h5.8 M659 235.0 v5.8 M656.1 361.7 h5.8 M659 358.8 v5.8 M656.2 307.5 h5.6" stroke="#222" stroke-width="0.9" fill="none"/>
<path d="M659 252 V295" stroke="#000" stroke-width="2.4" fill="none"/>
<path d="M659 246.6 L662.9 255.2 L659 252.8 L655.1 255.2Z M659 300.2 L662.9 291.6 L659 294 L655.1 291.6Z" fill="#000"/>
<path d="M659 377 V751.4" stroke="#000" stroke-width="2.4" fill="none"/>
<path d="M659 371.7 L662.9 380.3 L659 377.9 L655.1 380.3Z" fill="#000"/>
</svg>
</body></html>
